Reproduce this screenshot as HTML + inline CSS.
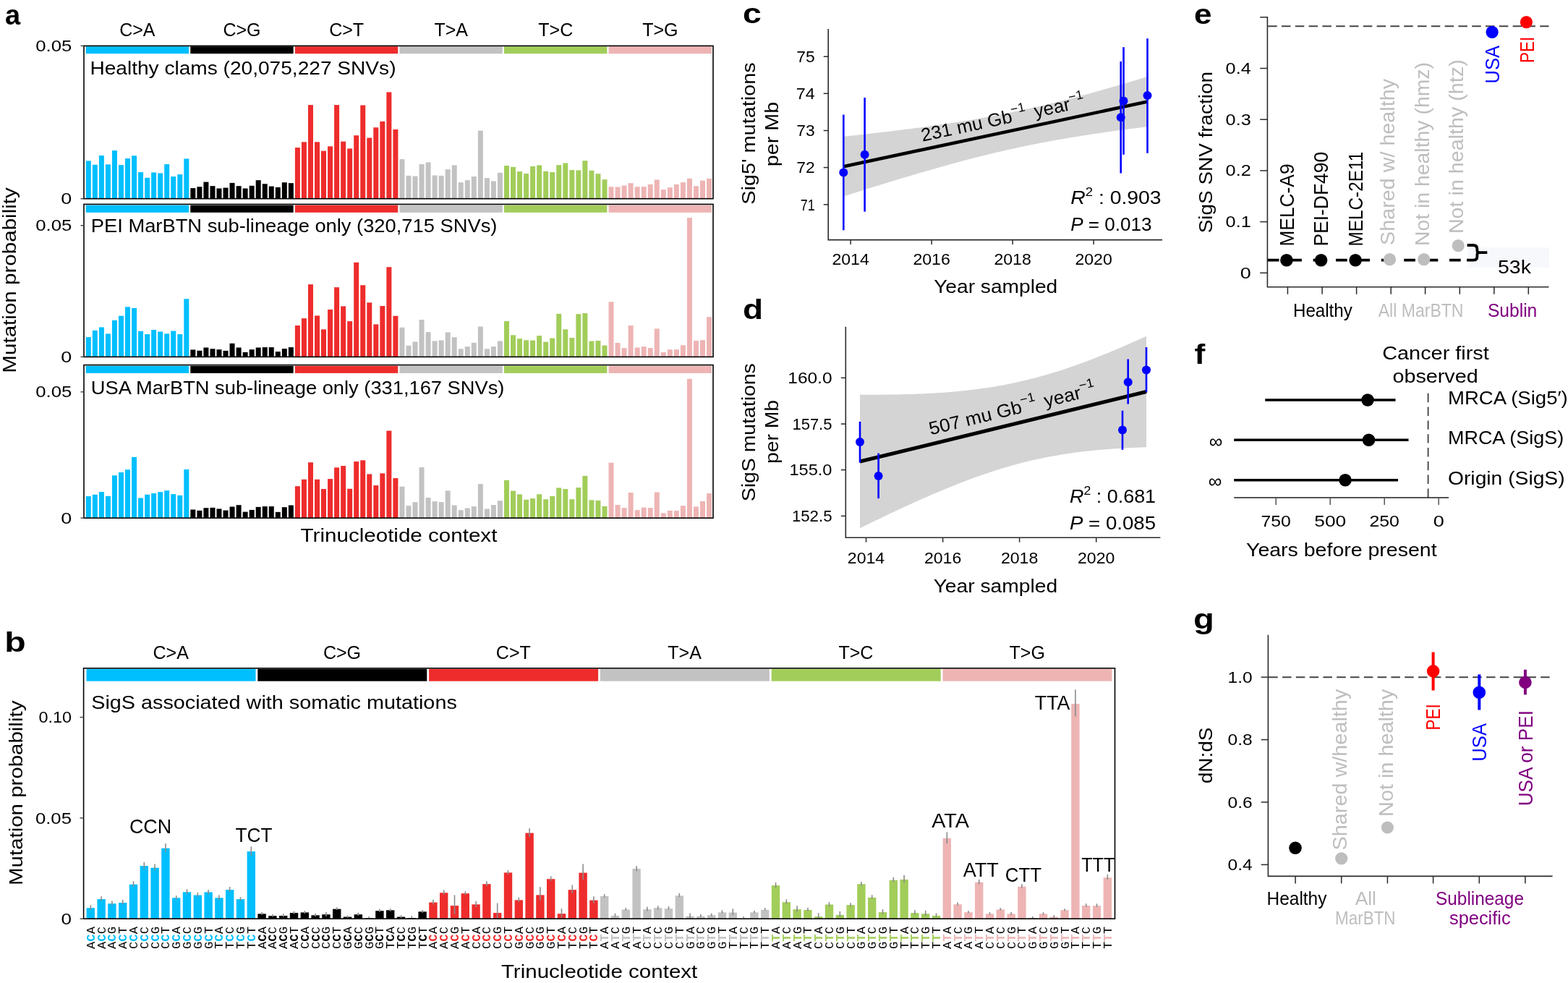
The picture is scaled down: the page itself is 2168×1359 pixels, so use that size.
<!DOCTYPE html>
<html><head><meta charset="utf-8"><title>Figure</title>
<style>html,body{margin:0;padding:0;background:#fff;} svg{display:block;}</style>
</head><body>
<svg width="2168" height="1359" viewBox="0 0 2168 1359" font-family="'Liberation Sans', Arial, Helvetica, sans-serif">
<rect x="0" y="0" width="2168" height="1359" fill="#fff"/>
<text x="7.0" y="33.5" font-size="38" font-weight="bold">a</text>
<text x="6.2" y="901.0" font-size="38" font-weight="bold" textLength="29.5" lengthAdjust="spacingAndGlyphs">b</text>
<text x="1027.0" y="32.0" font-size="38" font-weight="bold" textLength="25.8" lengthAdjust="spacingAndGlyphs">c</text>
<text x="1027.0" y="441.0" font-size="38" font-weight="bold" textLength="28.1" lengthAdjust="spacingAndGlyphs">d</text>
<text x="1651.0" y="32.5" font-size="38" font-weight="bold" textLength="24.5" lengthAdjust="spacingAndGlyphs">e</text>
<text x="1651.5" y="503.0" font-size="38" font-weight="bold" textLength="14.8" lengthAdjust="spacingAndGlyphs">f</text>
<text x="1650.0" y="868.5" font-size="38" font-weight="bold" textLength="28.8" lengthAdjust="spacingAndGlyphs">g</text>
<text x="189.9" y="50.4" font-size="25" text-anchor="middle">C&gt;A</text>
<text x="334.5" y="50.4" font-size="25" text-anchor="middle">C&gt;G</text>
<text x="479.1" y="50.4" font-size="25" text-anchor="middle">C&gt;T</text>
<text x="623.7" y="50.4" font-size="25" text-anchor="middle">T&gt;A</text>
<text x="768.3" y="50.4" font-size="25" text-anchor="middle">T&gt;C</text>
<text x="912.9" y="50.4" font-size="25" text-anchor="middle">T&gt;G</text>
<rect x="118.70" y="64.20" width="142.40" height="10.00" fill="#00BFFF"/>
<rect x="263.27" y="64.20" width="142.40" height="10.00" fill="#000000"/>
<rect x="407.84" y="64.20" width="142.40" height="10.00" fill="#EE2C2C"/>
<rect x="552.41" y="64.20" width="142.40" height="10.00" fill="#C2C2C2"/>
<rect x="696.98" y="64.20" width="142.40" height="10.00" fill="#A2CD5A"/>
<rect x="841.55" y="64.20" width="142.40" height="10.00" fill="#EEB4B4"/>
<rect x="118.80" y="222.39" width="7.00" height="52.31" fill="#00BFFF"/>
<rect x="127.83" y="227.74" width="7.00" height="46.96" fill="#00BFFF"/>
<rect x="136.87" y="215.03" width="7.00" height="59.67" fill="#00BFFF"/>
<rect x="145.90" y="227.34" width="7.00" height="47.36" fill="#00BFFF"/>
<rect x="154.94" y="208.08" width="7.00" height="66.62" fill="#00BFFF"/>
<rect x="163.97" y="228.14" width="7.00" height="46.56" fill="#00BFFF"/>
<rect x="173.00" y="219.05" width="7.00" height="55.65" fill="#00BFFF"/>
<rect x="182.04" y="215.30" width="7.00" height="59.40" fill="#00BFFF"/>
<rect x="191.07" y="238.04" width="7.00" height="36.66" fill="#00BFFF"/>
<rect x="200.11" y="245.80" width="7.00" height="28.90" fill="#00BFFF"/>
<rect x="209.14" y="238.44" width="7.00" height="36.26" fill="#00BFFF"/>
<rect x="218.17" y="239.38" width="7.00" height="35.32" fill="#00BFFF"/>
<rect x="227.21" y="227.07" width="7.00" height="47.63" fill="#00BFFF"/>
<rect x="236.24" y="244.06" width="7.00" height="30.64" fill="#00BFFF"/>
<rect x="245.28" y="241.12" width="7.00" height="33.58" fill="#00BFFF"/>
<rect x="254.31" y="219.45" width="7.00" height="55.25" fill="#00BFFF"/>
<rect x="263.34" y="260.11" width="7.00" height="14.59" fill="#000000"/>
<rect x="272.38" y="258.24" width="7.00" height="16.46" fill="#000000"/>
<rect x="281.41" y="251.55" width="7.00" height="23.15" fill="#000000"/>
<rect x="290.45" y="257.17" width="7.00" height="17.53" fill="#000000"/>
<rect x="299.48" y="260.51" width="7.00" height="14.19" fill="#000000"/>
<rect x="308.51" y="259.58" width="7.00" height="15.12" fill="#000000"/>
<rect x="317.55" y="252.89" width="7.00" height="21.81" fill="#000000"/>
<rect x="326.58" y="257.17" width="7.00" height="17.53" fill="#000000"/>
<rect x="335.62" y="260.51" width="7.00" height="14.19" fill="#000000"/>
<rect x="344.65" y="256.77" width="7.00" height="17.93" fill="#000000"/>
<rect x="353.68" y="249.14" width="7.00" height="25.56" fill="#000000"/>
<rect x="362.72" y="254.23" width="7.00" height="20.47" fill="#000000"/>
<rect x="371.75" y="257.57" width="7.00" height="17.13" fill="#000000"/>
<rect x="380.79" y="258.91" width="7.00" height="15.79" fill="#000000"/>
<rect x="389.82" y="252.22" width="7.00" height="22.48" fill="#000000"/>
<rect x="398.85" y="253.16" width="7.00" height="21.54" fill="#000000"/>
<rect x="407.89" y="204.07" width="7.00" height="70.63" fill="#EE2C2C"/>
<rect x="416.92" y="196.31" width="7.00" height="78.39" fill="#EE2C2C"/>
<rect x="425.96" y="145.08" width="7.00" height="129.62" fill="#EE2C2C"/>
<rect x="434.99" y="196.31" width="7.00" height="78.39" fill="#EE2C2C"/>
<rect x="444.02" y="208.61" width="7.00" height="66.09" fill="#EE2C2C"/>
<rect x="453.06" y="202.33" width="7.00" height="72.37" fill="#EE2C2C"/>
<rect x="462.09" y="145.08" width="7.00" height="129.62" fill="#EE2C2C"/>
<rect x="471.13" y="195.64" width="7.00" height="79.06" fill="#EE2C2C"/>
<rect x="480.16" y="205.40" width="7.00" height="69.30" fill="#EE2C2C"/>
<rect x="489.19" y="187.21" width="7.00" height="87.49" fill="#EE2C2C"/>
<rect x="498.23" y="145.48" width="7.00" height="129.22" fill="#EE2C2C"/>
<rect x="507.26" y="190.56" width="7.00" height="84.14" fill="#EE2C2C"/>
<rect x="516.30" y="176.24" width="7.00" height="98.46" fill="#EE2C2C"/>
<rect x="525.33" y="167.82" width="7.00" height="106.88" fill="#EE2C2C"/>
<rect x="534.36" y="127.42" width="7.00" height="147.28" fill="#EE2C2C"/>
<rect x="543.40" y="178.92" width="7.00" height="95.78" fill="#EE2C2C"/>
<rect x="552.43" y="220.12" width="7.00" height="54.58" fill="#C2C2C2"/>
<rect x="561.47" y="242.86" width="7.00" height="31.84" fill="#C2C2C2"/>
<rect x="570.50" y="243.53" width="7.00" height="31.17" fill="#C2C2C2"/>
<rect x="579.53" y="227.07" width="7.00" height="47.63" fill="#C2C2C2"/>
<rect x="588.57" y="224.40" width="7.00" height="50.30" fill="#C2C2C2"/>
<rect x="597.60" y="242.46" width="7.00" height="32.24" fill="#C2C2C2"/>
<rect x="606.64" y="242.86" width="7.00" height="31.84" fill="#C2C2C2"/>
<rect x="615.67" y="234.16" width="7.00" height="40.54" fill="#C2C2C2"/>
<rect x="624.70" y="228.41" width="7.00" height="46.29" fill="#C2C2C2"/>
<rect x="633.74" y="252.22" width="7.00" height="22.48" fill="#C2C2C2"/>
<rect x="642.77" y="249.14" width="7.00" height="25.56" fill="#C2C2C2"/>
<rect x="651.81" y="244.06" width="7.00" height="30.64" fill="#C2C2C2"/>
<rect x="660.84" y="180.66" width="7.00" height="94.04" fill="#C2C2C2"/>
<rect x="669.87" y="246.07" width="7.00" height="28.63" fill="#C2C2C2"/>
<rect x="678.91" y="250.48" width="7.00" height="24.22" fill="#C2C2C2"/>
<rect x="687.94" y="238.84" width="7.00" height="35.86" fill="#C2C2C2"/>
<rect x="696.98" y="229.08" width="7.00" height="45.62" fill="#A2CD5A"/>
<rect x="706.01" y="230.82" width="7.00" height="43.88" fill="#A2CD5A"/>
<rect x="715.04" y="237.11" width="7.00" height="37.59" fill="#A2CD5A"/>
<rect x="724.08" y="240.05" width="7.00" height="34.65" fill="#A2CD5A"/>
<rect x="733.11" y="230.02" width="7.00" height="44.68" fill="#A2CD5A"/>
<rect x="742.15" y="228.41" width="7.00" height="46.29" fill="#A2CD5A"/>
<rect x="751.18" y="236.84" width="7.00" height="37.86" fill="#A2CD5A"/>
<rect x="760.21" y="238.04" width="7.00" height="36.66" fill="#A2CD5A"/>
<rect x="769.25" y="228.14" width="7.00" height="46.56" fill="#A2CD5A"/>
<rect x="778.28" y="225.47" width="7.00" height="49.23" fill="#A2CD5A"/>
<rect x="787.32" y="235.10" width="7.00" height="39.60" fill="#A2CD5A"/>
<rect x="796.35" y="235.37" width="7.00" height="39.33" fill="#A2CD5A"/>
<rect x="805.38" y="222.12" width="7.00" height="52.58" fill="#A2CD5A"/>
<rect x="814.42" y="235.77" width="7.00" height="38.93" fill="#A2CD5A"/>
<rect x="823.45" y="240.18" width="7.00" height="34.52" fill="#A2CD5A"/>
<rect x="832.49" y="248.21" width="7.00" height="26.49" fill="#A2CD5A"/>
<rect x="841.52" y="258.24" width="7.00" height="16.46" fill="#EEB4B4"/>
<rect x="850.55" y="258.51" width="7.00" height="16.19" fill="#EEB4B4"/>
<rect x="859.59" y="256.50" width="7.00" height="18.20" fill="#EEB4B4"/>
<rect x="868.62" y="253.16" width="7.00" height="21.54" fill="#EEB4B4"/>
<rect x="877.66" y="258.24" width="7.00" height="16.46" fill="#EEB4B4"/>
<rect x="886.69" y="258.11" width="7.00" height="16.59" fill="#EEB4B4"/>
<rect x="895.72" y="254.90" width="7.00" height="19.80" fill="#EEB4B4"/>
<rect x="904.76" y="248.48" width="7.00" height="26.22" fill="#EEB4B4"/>
<rect x="913.79" y="262.12" width="7.00" height="12.58" fill="#EEB4B4"/>
<rect x="922.83" y="259.18" width="7.00" height="15.52" fill="#EEB4B4"/>
<rect x="931.86" y="254.90" width="7.00" height="19.80" fill="#EEB4B4"/>
<rect x="940.89" y="252.09" width="7.00" height="22.61" fill="#EEB4B4"/>
<rect x="949.93" y="246.74" width="7.00" height="27.96" fill="#EEB4B4"/>
<rect x="958.96" y="257.17" width="7.00" height="17.53" fill="#EEB4B4"/>
<rect x="968.00" y="249.55" width="7.00" height="25.15" fill="#EEB4B4"/>
<rect x="977.03" y="246.87" width="7.00" height="27.83" fill="#EEB4B4"/>
<rect x="116.0" y="63.4" width="870.0" height="211.29999999999998" fill="none" stroke="#000" stroke-width="1.6"/>
<line x1="111.5" y1="63.4" x2="116.0" y2="63.4" stroke="#444" stroke-width="1.4"/>
<line x1="111.5" y1="274.7" x2="116.0" y2="274.7" stroke="#444" stroke-width="1.4"/>
<text x="99.3" y="70.9" font-size="22.5" text-anchor="end" textLength="50.1" lengthAdjust="spacingAndGlyphs">0.05</text>
<text x="99.3" y="282.2" font-size="22.5" text-anchor="end" textLength="15.0" lengthAdjust="spacingAndGlyphs">0</text>
<text x="124.4" y="103.4" font-size="26" textLength="423.1" lengthAdjust="spacingAndGlyphs">Healthy clams (20,075,227 SNVs)</text>
<rect x="118.70" y="283.60" width="142.40" height="10.20" fill="#00BFFF"/>
<rect x="263.27" y="283.60" width="142.40" height="10.20" fill="#000000"/>
<rect x="407.84" y="283.60" width="142.40" height="10.20" fill="#EE2C2C"/>
<rect x="552.41" y="283.60" width="142.40" height="10.20" fill="#C2C2C2"/>
<rect x="696.98" y="283.60" width="142.40" height="10.20" fill="#A2CD5A"/>
<rect x="841.55" y="283.60" width="142.40" height="10.20" fill="#EEB4B4"/>
<rect x="118.80" y="466.07" width="7.00" height="27.33" fill="#00BFFF"/>
<rect x="127.83" y="456.84" width="7.00" height="36.56" fill="#00BFFF"/>
<rect x="136.87" y="452.42" width="7.00" height="40.98" fill="#00BFFF"/>
<rect x="145.90" y="461.39" width="7.00" height="32.01" fill="#00BFFF"/>
<rect x="154.94" y="442.79" width="7.00" height="50.61" fill="#00BFFF"/>
<rect x="163.97" y="436.64" width="7.00" height="56.76" fill="#00BFFF"/>
<rect x="173.00" y="424.33" width="7.00" height="69.07" fill="#00BFFF"/>
<rect x="182.04" y="425.94" width="7.00" height="67.46" fill="#00BFFF"/>
<rect x="191.07" y="457.77" width="7.00" height="35.63" fill="#00BFFF"/>
<rect x="200.11" y="462.05" width="7.00" height="31.35" fill="#00BFFF"/>
<rect x="209.14" y="456.04" width="7.00" height="37.36" fill="#00BFFF"/>
<rect x="218.17" y="458.44" width="7.00" height="34.96" fill="#00BFFF"/>
<rect x="227.21" y="461.39" width="7.00" height="32.01" fill="#00BFFF"/>
<rect x="236.24" y="457.51" width="7.00" height="35.89" fill="#00BFFF"/>
<rect x="245.28" y="462.05" width="7.00" height="31.35" fill="#00BFFF"/>
<rect x="254.31" y="413.23" width="7.00" height="80.17" fill="#00BFFF"/>
<rect x="263.34" y="483.46" width="7.00" height="9.94" fill="#000000"/>
<rect x="272.38" y="484.79" width="7.00" height="8.61" fill="#000000"/>
<rect x="281.41" y="480.51" width="7.00" height="12.89" fill="#000000"/>
<rect x="290.45" y="482.25" width="7.00" height="11.15" fill="#000000"/>
<rect x="299.48" y="483.19" width="7.00" height="10.21" fill="#000000"/>
<rect x="308.51" y="484.93" width="7.00" height="8.47" fill="#000000"/>
<rect x="317.55" y="474.76" width="7.00" height="18.64" fill="#000000"/>
<rect x="326.58" y="480.51" width="7.00" height="12.89" fill="#000000"/>
<rect x="335.62" y="486.93" width="7.00" height="6.47" fill="#000000"/>
<rect x="344.65" y="483.19" width="7.00" height="10.21" fill="#000000"/>
<rect x="353.68" y="480.51" width="7.00" height="12.89" fill="#000000"/>
<rect x="362.72" y="480.11" width="7.00" height="13.29" fill="#000000"/>
<rect x="371.75" y="480.11" width="7.00" height="13.29" fill="#000000"/>
<rect x="380.79" y="486.13" width="7.00" height="7.27" fill="#000000"/>
<rect x="389.82" y="482.12" width="7.00" height="11.28" fill="#000000"/>
<rect x="398.85" y="480.11" width="7.00" height="13.29" fill="#000000"/>
<rect x="407.89" y="450.02" width="7.00" height="43.38" fill="#EE2C2C"/>
<rect x="416.92" y="440.12" width="7.00" height="53.28" fill="#EE2C2C"/>
<rect x="425.96" y="393.17" width="7.00" height="100.23" fill="#EE2C2C"/>
<rect x="434.99" y="436.37" width="7.00" height="57.03" fill="#EE2C2C"/>
<rect x="444.02" y="455.37" width="7.00" height="38.03" fill="#EE2C2C"/>
<rect x="453.06" y="427.95" width="7.00" height="65.45" fill="#EE2C2C"/>
<rect x="462.09" y="397.18" width="7.00" height="96.22" fill="#EE2C2C"/>
<rect x="471.13" y="423.40" width="7.00" height="70.00" fill="#EE2C2C"/>
<rect x="480.16" y="444.13" width="7.00" height="49.27" fill="#EE2C2C"/>
<rect x="489.19" y="362.80" width="7.00" height="130.60" fill="#EE2C2C"/>
<rect x="498.23" y="394.24" width="7.00" height="99.16" fill="#EE2C2C"/>
<rect x="507.26" y="418.31" width="7.00" height="75.09" fill="#EE2C2C"/>
<rect x="516.30" y="448.41" width="7.00" height="44.99" fill="#EE2C2C"/>
<rect x="525.33" y="423.00" width="7.00" height="70.40" fill="#EE2C2C"/>
<rect x="534.36" y="369.22" width="7.00" height="124.18" fill="#EE2C2C"/>
<rect x="543.40" y="436.77" width="7.00" height="56.63" fill="#EE2C2C"/>
<rect x="552.43" y="452.69" width="7.00" height="40.71" fill="#C2C2C2"/>
<rect x="561.47" y="477.84" width="7.00" height="15.56" fill="#C2C2C2"/>
<rect x="570.50" y="472.49" width="7.00" height="20.91" fill="#C2C2C2"/>
<rect x="579.53" y="441.99" width="7.00" height="51.41" fill="#C2C2C2"/>
<rect x="588.57" y="459.11" width="7.00" height="34.29" fill="#C2C2C2"/>
<rect x="597.60" y="471.42" width="7.00" height="21.98" fill="#C2C2C2"/>
<rect x="606.64" y="470.48" width="7.00" height="22.92" fill="#C2C2C2"/>
<rect x="615.67" y="459.38" width="7.00" height="34.02" fill="#C2C2C2"/>
<rect x="624.70" y="466.20" width="7.00" height="27.20" fill="#C2C2C2"/>
<rect x="633.74" y="482.25" width="7.00" height="11.15" fill="#C2C2C2"/>
<rect x="642.77" y="479.18" width="7.00" height="14.22" fill="#C2C2C2"/>
<rect x="651.81" y="473.83" width="7.00" height="19.57" fill="#C2C2C2"/>
<rect x="660.84" y="451.49" width="7.00" height="41.91" fill="#C2C2C2"/>
<rect x="669.87" y="482.25" width="7.00" height="11.15" fill="#C2C2C2"/>
<rect x="678.91" y="479.18" width="7.00" height="14.22" fill="#C2C2C2"/>
<rect x="687.94" y="471.42" width="7.00" height="21.98" fill="#C2C2C2"/>
<rect x="696.98" y="444.02" width="7.00" height="49.38" fill="#A2CD5A"/>
<rect x="706.01" y="463.29" width="7.00" height="30.11" fill="#A2CD5A"/>
<rect x="715.04" y="468.15" width="7.00" height="25.25" fill="#A2CD5A"/>
<rect x="724.08" y="470.25" width="7.00" height="23.15" fill="#A2CD5A"/>
<rect x="733.11" y="470.58" width="7.00" height="22.82" fill="#A2CD5A"/>
<rect x="742.15" y="464.10" width="7.00" height="29.30" fill="#A2CD5A"/>
<rect x="751.18" y="472.68" width="7.00" height="20.72" fill="#A2CD5A"/>
<rect x="760.21" y="467.50" width="7.00" height="25.90" fill="#A2CD5A"/>
<rect x="769.25" y="433.82" width="7.00" height="59.58" fill="#A2CD5A"/>
<rect x="778.28" y="455.36" width="7.00" height="38.04" fill="#A2CD5A"/>
<rect x="787.32" y="467.01" width="7.00" height="26.39" fill="#A2CD5A"/>
<rect x="796.35" y="434.15" width="7.00" height="59.25" fill="#A2CD5A"/>
<rect x="805.38" y="433.01" width="7.00" height="60.39" fill="#A2CD5A"/>
<rect x="814.42" y="471.55" width="7.00" height="21.85" fill="#A2CD5A"/>
<rect x="823.45" y="471.06" width="7.00" height="22.34" fill="#A2CD5A"/>
<rect x="832.49" y="477.54" width="7.00" height="15.86" fill="#A2CD5A"/>
<rect x="841.52" y="417.31" width="7.00" height="76.09" fill="#EEB4B4"/>
<rect x="850.55" y="473.98" width="7.00" height="19.42" fill="#EEB4B4"/>
<rect x="859.59" y="481.10" width="7.00" height="12.30" fill="#EEB4B4"/>
<rect x="868.62" y="450.01" width="7.00" height="43.39" fill="#EEB4B4"/>
<rect x="877.66" y="480.45" width="7.00" height="12.95" fill="#EEB4B4"/>
<rect x="886.69" y="479.16" width="7.00" height="14.24" fill="#EEB4B4"/>
<rect x="895.72" y="481.10" width="7.00" height="12.30" fill="#EEB4B4"/>
<rect x="904.76" y="454.38" width="7.00" height="39.02" fill="#EEB4B4"/>
<rect x="913.79" y="486.93" width="7.00" height="6.47" fill="#EEB4B4"/>
<rect x="922.83" y="483.21" width="7.00" height="10.19" fill="#EEB4B4"/>
<rect x="931.86" y="483.21" width="7.00" height="10.19" fill="#EEB4B4"/>
<rect x="940.89" y="477.22" width="7.00" height="16.18" fill="#EEB4B4"/>
<rect x="949.93" y="301.05" width="7.00" height="192.35" fill="#EEB4B4"/>
<rect x="958.96" y="471.06" width="7.00" height="22.34" fill="#EEB4B4"/>
<rect x="968.00" y="470.25" width="7.00" height="23.15" fill="#EEB4B4"/>
<rect x="977.03" y="438.19" width="7.00" height="55.21" fill="#EEB4B4"/>
<rect x="116.0" y="282.4" width="870.0" height="211.0" fill="none" stroke="#000" stroke-width="1.6"/>
<line x1="111.5" y1="311.8" x2="116.0" y2="311.8" stroke="#444" stroke-width="1.4"/>
<line x1="111.5" y1="493.4" x2="116.0" y2="493.4" stroke="#444" stroke-width="1.4"/>
<text x="99.3" y="319.3" font-size="22.5" text-anchor="end" textLength="50.1" lengthAdjust="spacingAndGlyphs">0.05</text>
<text x="99.3" y="500.9" font-size="22.5" text-anchor="end" textLength="15.0" lengthAdjust="spacingAndGlyphs">0</text>
<text x="125.8" y="321.0" font-size="26" textLength="561.6" lengthAdjust="spacingAndGlyphs">PEI MarBTN sub-lineage only (320,715 SNVs)</text>
<rect x="118.70" y="505.80" width="142.40" height="10.10" fill="#00BFFF"/>
<rect x="263.27" y="505.80" width="142.40" height="10.10" fill="#000000"/>
<rect x="407.84" y="505.80" width="142.40" height="10.10" fill="#EE2C2C"/>
<rect x="552.41" y="505.80" width="142.40" height="10.10" fill="#C2C2C2"/>
<rect x="696.98" y="505.80" width="142.40" height="10.10" fill="#A2CD5A"/>
<rect x="841.55" y="505.80" width="142.40" height="10.10" fill="#EEB4B4"/>
<rect x="118.80" y="686.07" width="7.00" height="30.13" fill="#00BFFF"/>
<rect x="127.83" y="683.79" width="7.00" height="32.41" fill="#00BFFF"/>
<rect x="136.87" y="680.05" width="7.00" height="36.15" fill="#00BFFF"/>
<rect x="145.90" y="685.80" width="7.00" height="30.40" fill="#00BFFF"/>
<rect x="154.94" y="657.31" width="7.00" height="58.89" fill="#00BFFF"/>
<rect x="163.97" y="653.03" width="7.00" height="63.17" fill="#00BFFF"/>
<rect x="173.00" y="649.28" width="7.00" height="66.92" fill="#00BFFF"/>
<rect x="182.04" y="631.89" width="7.00" height="84.31" fill="#00BFFF"/>
<rect x="191.07" y="688.48" width="7.00" height="27.72" fill="#00BFFF"/>
<rect x="200.11" y="683.79" width="7.00" height="32.41" fill="#00BFFF"/>
<rect x="209.14" y="682.05" width="7.00" height="34.15" fill="#00BFFF"/>
<rect x="218.17" y="680.18" width="7.00" height="36.02" fill="#00BFFF"/>
<rect x="227.21" y="678.18" width="7.00" height="38.02" fill="#00BFFF"/>
<rect x="236.24" y="683.12" width="7.00" height="33.08" fill="#00BFFF"/>
<rect x="245.28" y="684.86" width="7.00" height="31.34" fill="#00BFFF"/>
<rect x="254.31" y="649.02" width="7.00" height="67.18" fill="#00BFFF"/>
<rect x="263.34" y="704.53" width="7.00" height="11.67" fill="#000000"/>
<rect x="272.38" y="705.86" width="7.00" height="10.34" fill="#000000"/>
<rect x="281.41" y="702.25" width="7.00" height="13.95" fill="#000000"/>
<rect x="290.45" y="701.85" width="7.00" height="14.35" fill="#000000"/>
<rect x="299.48" y="703.46" width="7.00" height="12.74" fill="#000000"/>
<rect x="308.51" y="705.60" width="7.00" height="10.60" fill="#000000"/>
<rect x="317.55" y="700.51" width="7.00" height="15.69" fill="#000000"/>
<rect x="326.58" y="698.24" width="7.00" height="17.96" fill="#000000"/>
<rect x="335.62" y="707.60" width="7.00" height="8.60" fill="#000000"/>
<rect x="344.65" y="704.93" width="7.00" height="11.27" fill="#000000"/>
<rect x="353.68" y="700.91" width="7.00" height="15.29" fill="#000000"/>
<rect x="362.72" y="700.11" width="7.00" height="16.09" fill="#000000"/>
<rect x="371.75" y="700.11" width="7.00" height="16.09" fill="#000000"/>
<rect x="380.79" y="707.87" width="7.00" height="8.33" fill="#000000"/>
<rect x="389.82" y="701.18" width="7.00" height="15.02" fill="#000000"/>
<rect x="398.85" y="698.51" width="7.00" height="17.69" fill="#000000"/>
<rect x="407.89" y="672.16" width="7.00" height="44.04" fill="#EE2C2C"/>
<rect x="416.92" y="662.79" width="7.00" height="53.41" fill="#EE2C2C"/>
<rect x="425.96" y="639.25" width="7.00" height="76.95" fill="#EE2C2C"/>
<rect x="434.99" y="662.79" width="7.00" height="53.41" fill="#EE2C2C"/>
<rect x="444.02" y="676.04" width="7.00" height="40.16" fill="#EE2C2C"/>
<rect x="453.06" y="662.12" width="7.00" height="54.08" fill="#EE2C2C"/>
<rect x="462.09" y="646.34" width="7.00" height="69.86" fill="#EE2C2C"/>
<rect x="471.13" y="644.07" width="7.00" height="72.13" fill="#EE2C2C"/>
<rect x="480.16" y="675.77" width="7.00" height="40.43" fill="#EE2C2C"/>
<rect x="489.19" y="638.05" width="7.00" height="78.15" fill="#EE2C2C"/>
<rect x="498.23" y="636.31" width="7.00" height="79.89" fill="#EE2C2C"/>
<rect x="507.26" y="655.44" width="7.00" height="60.76" fill="#EE2C2C"/>
<rect x="516.30" y="671.09" width="7.00" height="45.11" fill="#EE2C2C"/>
<rect x="525.33" y="654.37" width="7.00" height="61.83" fill="#EE2C2C"/>
<rect x="534.36" y="595.51" width="7.00" height="120.69" fill="#EE2C2C"/>
<rect x="543.40" y="661.05" width="7.00" height="55.15" fill="#EE2C2C"/>
<rect x="552.43" y="672.69" width="7.00" height="43.51" fill="#C2C2C2"/>
<rect x="561.47" y="699.18" width="7.00" height="17.02" fill="#C2C2C2"/>
<rect x="570.50" y="694.23" width="7.00" height="21.97" fill="#C2C2C2"/>
<rect x="579.53" y="646.07" width="7.00" height="70.13" fill="#C2C2C2"/>
<rect x="588.57" y="688.07" width="7.00" height="28.13" fill="#C2C2C2"/>
<rect x="597.60" y="693.16" width="7.00" height="23.04" fill="#C2C2C2"/>
<rect x="606.64" y="694.09" width="7.00" height="22.11" fill="#C2C2C2"/>
<rect x="615.67" y="678.44" width="7.00" height="37.76" fill="#C2C2C2"/>
<rect x="624.70" y="698.51" width="7.00" height="17.69" fill="#C2C2C2"/>
<rect x="633.74" y="705.20" width="7.00" height="11.00" fill="#C2C2C2"/>
<rect x="642.77" y="702.52" width="7.00" height="13.68" fill="#C2C2C2"/>
<rect x="651.81" y="700.11" width="7.00" height="16.09" fill="#C2C2C2"/>
<rect x="660.84" y="669.08" width="7.00" height="47.12" fill="#C2C2C2"/>
<rect x="669.87" y="703.46" width="7.00" height="12.74" fill="#C2C2C2"/>
<rect x="678.91" y="698.11" width="7.00" height="18.09" fill="#C2C2C2"/>
<rect x="687.94" y="692.22" width="7.00" height="23.98" fill="#C2C2C2"/>
<rect x="696.98" y="663.86" width="7.00" height="52.34" fill="#A2CD5A"/>
<rect x="706.01" y="678.59" width="7.00" height="37.61" fill="#A2CD5A"/>
<rect x="715.04" y="683.45" width="7.00" height="32.75" fill="#A2CD5A"/>
<rect x="724.08" y="690.74" width="7.00" height="25.46" fill="#A2CD5A"/>
<rect x="733.11" y="689.12" width="7.00" height="27.08" fill="#A2CD5A"/>
<rect x="742.15" y="683.29" width="7.00" height="32.91" fill="#A2CD5A"/>
<rect x="751.18" y="690.25" width="7.00" height="25.95" fill="#A2CD5A"/>
<rect x="760.21" y="685.88" width="7.00" height="30.32" fill="#A2CD5A"/>
<rect x="769.25" y="674.38" width="7.00" height="41.82" fill="#A2CD5A"/>
<rect x="778.28" y="676.00" width="7.00" height="40.20" fill="#A2CD5A"/>
<rect x="787.32" y="690.25" width="7.00" height="25.95" fill="#A2CD5A"/>
<rect x="796.35" y="674.06" width="7.00" height="42.14" fill="#A2CD5A"/>
<rect x="805.38" y="657.87" width="7.00" height="58.33" fill="#A2CD5A"/>
<rect x="814.42" y="691.39" width="7.00" height="24.81" fill="#A2CD5A"/>
<rect x="823.45" y="692.03" width="7.00" height="24.17" fill="#A2CD5A"/>
<rect x="832.49" y="699.97" width="7.00" height="16.23" fill="#A2CD5A"/>
<rect x="841.52" y="639.73" width="7.00" height="76.47" fill="#EEB4B4"/>
<rect x="850.55" y="698.02" width="7.00" height="18.18" fill="#EEB4B4"/>
<rect x="859.59" y="702.07" width="7.00" height="14.13" fill="#EEB4B4"/>
<rect x="868.62" y="681.02" width="7.00" height="35.18" fill="#EEB4B4"/>
<rect x="877.66" y="705.15" width="7.00" height="11.05" fill="#EEB4B4"/>
<rect x="886.69" y="701.59" width="7.00" height="14.61" fill="#EEB4B4"/>
<rect x="895.72" y="702.07" width="7.00" height="14.13" fill="#EEB4B4"/>
<rect x="904.76" y="680.54" width="7.00" height="35.66" fill="#EEB4B4"/>
<rect x="913.79" y="709.36" width="7.00" height="6.84" fill="#EEB4B4"/>
<rect x="922.83" y="705.96" width="7.00" height="10.24" fill="#EEB4B4"/>
<rect x="931.86" y="706.12" width="7.00" height="10.08" fill="#EEB4B4"/>
<rect x="940.89" y="699.16" width="7.00" height="17.04" fill="#EEB4B4"/>
<rect x="949.93" y="523.80" width="7.00" height="192.40" fill="#EEB4B4"/>
<rect x="958.96" y="700.45" width="7.00" height="15.75" fill="#EEB4B4"/>
<rect x="968.00" y="693.01" width="7.00" height="23.19" fill="#EEB4B4"/>
<rect x="977.03" y="682.16" width="7.00" height="34.04" fill="#EEB4B4"/>
<rect x="116.0" y="504.6" width="870.0" height="211.60000000000002" fill="none" stroke="#000" stroke-width="1.6"/>
<line x1="111.5" y1="541.8" x2="116.0" y2="541.8" stroke="#444" stroke-width="1.4"/>
<line x1="111.5" y1="716.2" x2="116.0" y2="716.2" stroke="#444" stroke-width="1.4"/>
<text x="99.3" y="549.3" font-size="22.5" text-anchor="end" textLength="50.1" lengthAdjust="spacingAndGlyphs">0.05</text>
<text x="99.3" y="723.7" font-size="22.5" text-anchor="end" textLength="15.0" lengthAdjust="spacingAndGlyphs">0</text>
<text x="125.8" y="544.6" font-size="26" textLength="571.6" lengthAdjust="spacingAndGlyphs">USA MarBTN sub-lineage only (331,167 SNVs)</text>
<text transform="translate(22.1,387.4) rotate(-90)" font-size="26" text-anchor="middle" textLength="256.5" lengthAdjust="spacingAndGlyphs">Mutation probability</text>
<text x="551.5" y="748.7" font-size="26.5" text-anchor="middle" textLength="271.8" lengthAdjust="spacingAndGlyphs">Trinucleotide context</text>
<text x="236.2" y="910.7" font-size="25" text-anchor="middle">C&gt;A</text>
<rect x="119.50" y="924.80" width="234.00" height="16.90" fill="#00BFFF"/>
<text x="473.0" y="910.7" font-size="25" text-anchor="middle">C&gt;G</text>
<rect x="356.30" y="924.80" width="234.00" height="16.90" fill="#000000"/>
<text x="709.8" y="910.7" font-size="25" text-anchor="middle">C&gt;T</text>
<rect x="593.10" y="924.80" width="234.00" height="16.90" fill="#EE2C2C"/>
<text x="946.6" y="910.7" font-size="25" text-anchor="middle">T&gt;A</text>
<rect x="829.90" y="924.80" width="234.00" height="16.90" fill="#C2C2C2"/>
<text x="1183.4" y="910.7" font-size="25" text-anchor="middle">T&gt;C</text>
<rect x="1066.70" y="924.80" width="234.00" height="16.90" fill="#A2CD5A"/>
<text x="1420.2" y="910.7" font-size="25" text-anchor="middle">T&gt;G</text>
<rect x="1303.50" y="924.80" width="234.00" height="16.90" fill="#EEB4B4"/>
<text x="126.2" y="980.1" font-size="26" textLength="505.6" lengthAdjust="spacingAndGlyphs">SigS associated with somatic mutations</text>
<rect x="119.60" y="1255.22" width="11.40" height="14.98" fill="#00BFFF"/>
<rect x="134.40" y="1243.09" width="11.40" height="27.11" fill="#00BFFF"/>
<rect x="149.20" y="1249.21" width="11.40" height="20.99" fill="#00BFFF"/>
<rect x="164.00" y="1248.03" width="11.40" height="22.17" fill="#00BFFF"/>
<rect x="178.80" y="1222.71" width="11.40" height="47.49" fill="#00BFFF"/>
<rect x="193.60" y="1197.15" width="11.40" height="73.05" fill="#00BFFF"/>
<rect x="208.40" y="1199.74" width="11.40" height="70.46" fill="#00BFFF"/>
<rect x="223.20" y="1172.77" width="11.40" height="97.43" fill="#00BFFF"/>
<rect x="238.00" y="1241.32" width="11.40" height="28.88" fill="#00BFFF"/>
<rect x="252.80" y="1233.31" width="11.40" height="36.89" fill="#00BFFF"/>
<rect x="267.60" y="1237.55" width="11.40" height="32.65" fill="#00BFFF"/>
<rect x="282.40" y="1233.43" width="11.40" height="36.77" fill="#00BFFF"/>
<rect x="297.20" y="1241.32" width="11.40" height="28.88" fill="#00BFFF"/>
<rect x="312.00" y="1230.13" width="11.40" height="40.07" fill="#00BFFF"/>
<rect x="326.80" y="1243.09" width="11.40" height="27.11" fill="#00BFFF"/>
<rect x="341.60" y="1177.13" width="11.40" height="93.07" fill="#00BFFF"/>
<rect x="356.40" y="1263.34" width="11.40" height="6.86" fill="#000000"/>
<rect x="371.20" y="1266.22" width="11.40" height="3.98" fill="#000000"/>
<rect x="386.00" y="1266.00" width="11.40" height="4.20" fill="#000000"/>
<rect x="400.80" y="1262.02" width="11.40" height="8.18" fill="#000000"/>
<rect x="415.60" y="1261.46" width="11.40" height="8.74" fill="#000000"/>
<rect x="430.40" y="1265.34" width="11.40" height="4.86" fill="#000000"/>
<rect x="445.20" y="1264.23" width="11.40" height="5.97" fill="#000000"/>
<rect x="460.00" y="1256.70" width="11.40" height="13.50" fill="#000000"/>
<rect x="474.80" y="1267.55" width="11.40" height="2.65" fill="#000000"/>
<rect x="489.60" y="1264.23" width="11.40" height="5.97" fill="#000000"/>
<rect x="504.40" y="1269.55" width="11.40" height="0.65" fill="#000000"/>
<rect x="519.20" y="1259.25" width="11.40" height="10.95" fill="#000000"/>
<rect x="534.00" y="1258.36" width="11.40" height="11.84" fill="#000000"/>
<rect x="548.80" y="1267.55" width="11.40" height="2.65" fill="#000000"/>
<rect x="563.60" y="1269.21" width="11.40" height="0.99" fill="#000000"/>
<rect x="578.40" y="1260.35" width="11.40" height="9.85" fill="#000000"/>
<rect x="593.20" y="1247.57" width="11.40" height="22.63" fill="#EE2C2C"/>
<rect x="608.00" y="1234.28" width="11.40" height="35.92" fill="#EE2C2C"/>
<rect x="622.80" y="1252.11" width="11.40" height="18.09" fill="#EE2C2C"/>
<rect x="637.60" y="1235.17" width="11.40" height="35.03" fill="#EE2C2C"/>
<rect x="652.40" y="1250.34" width="11.40" height="19.86" fill="#EE2C2C"/>
<rect x="667.20" y="1222.22" width="11.40" height="47.98" fill="#EE2C2C"/>
<rect x="682.00" y="1262.07" width="11.40" height="8.13" fill="#EE2C2C"/>
<rect x="696.80" y="1206.39" width="11.40" height="63.81" fill="#EE2C2C"/>
<rect x="711.60" y="1244.36" width="11.40" height="25.84" fill="#EE2C2C"/>
<rect x="726.40" y="1151.59" width="11.40" height="118.61" fill="#EE2C2C"/>
<rect x="741.20" y="1237.38" width="11.40" height="32.82" fill="#EE2C2C"/>
<rect x="756.00" y="1215.24" width="11.40" height="54.96" fill="#EE2C2C"/>
<rect x="770.80" y="1263.18" width="11.40" height="7.02" fill="#EE2C2C"/>
<rect x="785.60" y="1230.19" width="11.40" height="40.01" fill="#EE2C2C"/>
<rect x="800.40" y="1206.61" width="11.40" height="63.59" fill="#EE2C2C"/>
<rect x="815.20" y="1244.58" width="11.40" height="25.62" fill="#EE2C2C"/>
<rect x="830.00" y="1239.01" width="11.40" height="31.19" fill="#C2C2C2"/>
<rect x="844.80" y="1266.02" width="11.40" height="4.18" fill="#C2C2C2"/>
<rect x="859.60" y="1257.49" width="11.40" height="12.71" fill="#C2C2C2"/>
<rect x="874.40" y="1201.03" width="11.40" height="69.17" fill="#C2C2C2"/>
<rect x="889.20" y="1257.16" width="11.40" height="13.04" fill="#C2C2C2"/>
<rect x="904.00" y="1255.28" width="11.40" height="14.92" fill="#C2C2C2"/>
<rect x="918.80" y="1256.17" width="11.40" height="14.03" fill="#C2C2C2"/>
<rect x="933.60" y="1238.34" width="11.40" height="31.86" fill="#C2C2C2"/>
<rect x="948.40" y="1266.68" width="11.40" height="3.52" fill="#C2C2C2"/>
<rect x="963.20" y="1266.68" width="11.40" height="3.52" fill="#C2C2C2"/>
<rect x="978.00" y="1265.24" width="11.40" height="4.96" fill="#C2C2C2"/>
<rect x="992.80" y="1261.37" width="11.40" height="8.83" fill="#C2C2C2"/>
<rect x="1007.60" y="1261.59" width="11.40" height="8.61" fill="#C2C2C2"/>
<rect x="1022.40" y="1269.89" width="11.40" height="0.31" fill="#C2C2C2"/>
<rect x="1037.20" y="1261.37" width="11.40" height="8.83" fill="#C2C2C2"/>
<rect x="1052.00" y="1257.83" width="11.40" height="12.37" fill="#C2C2C2"/>
<rect x="1066.80" y="1224.06" width="11.40" height="46.14" fill="#A2CD5A"/>
<rect x="1081.60" y="1247.20" width="11.40" height="23.00" fill="#A2CD5A"/>
<rect x="1096.40" y="1257.16" width="11.40" height="13.04" fill="#A2CD5A"/>
<rect x="1111.20" y="1258.05" width="11.40" height="12.15" fill="#A2CD5A"/>
<rect x="1126.00" y="1267.12" width="11.40" height="3.08" fill="#A2CD5A"/>
<rect x="1140.80" y="1250.52" width="11.40" height="19.68" fill="#A2CD5A"/>
<rect x="1155.60" y="1264.91" width="11.40" height="5.29" fill="#A2CD5A"/>
<rect x="1170.40" y="1251.18" width="11.40" height="19.02" fill="#A2CD5A"/>
<rect x="1185.20" y="1222.29" width="11.40" height="47.91" fill="#A2CD5A"/>
<rect x="1200.00" y="1240.89" width="11.40" height="29.31" fill="#A2CD5A"/>
<rect x="1214.80" y="1261.15" width="11.40" height="9.05" fill="#A2CD5A"/>
<rect x="1229.60" y="1216.75" width="11.40" height="53.45" fill="#A2CD5A"/>
<rect x="1244.40" y="1215.98" width="11.40" height="54.22" fill="#A2CD5A"/>
<rect x="1259.20" y="1262.14" width="11.40" height="8.06" fill="#A2CD5A"/>
<rect x="1274.00" y="1263.25" width="11.40" height="6.95" fill="#A2CD5A"/>
<rect x="1288.80" y="1266.02" width="11.40" height="4.18" fill="#A2CD5A"/>
<rect x="1303.60" y="1158.83" width="11.40" height="111.37" fill="#EEB4B4"/>
<rect x="1318.40" y="1250.27" width="11.40" height="19.93" fill="#EEB4B4"/>
<rect x="1333.20" y="1261.23" width="11.40" height="8.97" fill="#EEB4B4"/>
<rect x="1348.00" y="1219.71" width="11.40" height="50.49" fill="#EEB4B4"/>
<rect x="1362.80" y="1263.42" width="11.40" height="6.78" fill="#EEB4B4"/>
<rect x="1377.60" y="1257.42" width="11.40" height="12.78" fill="#EEB4B4"/>
<rect x="1392.40" y="1263.42" width="11.40" height="6.78" fill="#EEB4B4"/>
<rect x="1407.20" y="1225.71" width="11.40" height="44.49" fill="#EEB4B4"/>
<rect x="1422.00" y="1268.95" width="11.40" height="1.25" fill="#EEB4B4"/>
<rect x="1436.80" y="1263.42" width="11.40" height="6.78" fill="#EEB4B4"/>
<rect x="1451.60" y="1267.57" width="11.40" height="2.63" fill="#EEB4B4"/>
<rect x="1466.40" y="1258.23" width="11.40" height="11.97" fill="#EEB4B4"/>
<rect x="1481.20" y="973.10" width="11.40" height="297.10" fill="#EEB4B4"/>
<rect x="1496.00" y="1252.00" width="11.40" height="18.20" fill="#EEB4B4"/>
<rect x="1510.80" y="1252.23" width="11.40" height="17.97" fill="#EEB4B4"/>
<rect x="1525.60" y="1213.26" width="11.40" height="56.94" fill="#EEB4B4"/>
<line x1="125.3" y1="1251.3" x2="125.3" y2="1258.0" stroke="#8c8c8c" stroke-width="1.6"/>
<line x1="140.1" y1="1239.2" x2="140.1" y2="1245.8" stroke="#8c8c8c" stroke-width="1.6"/>
<line x1="154.9" y1="1245.4" x2="154.9" y2="1251.6" stroke="#8c8c8c" stroke-width="1.6"/>
<line x1="169.7" y1="1243.9" x2="169.7" y2="1250.4" stroke="#8c8c8c" stroke-width="1.6"/>
<line x1="184.5" y1="1218.4" x2="184.5" y2="1226.0" stroke="#8c8c8c" stroke-width="1.6"/>
<line x1="199.3" y1="1191.8" x2="199.3" y2="1201.3" stroke="#8c8c8c" stroke-width="1.6"/>
<line x1="214.1" y1="1194.4" x2="214.1" y2="1203.3" stroke="#8c8c8c" stroke-width="1.6"/>
<line x1="228.9" y1="1166.2" x2="228.9" y2="1178.3" stroke="#8c8c8c" stroke-width="1.6"/>
<line x1="243.7" y1="1238.1" x2="243.7" y2="1243.3" stroke="#8c8c8c" stroke-width="1.6"/>
<line x1="258.5" y1="1229.3" x2="258.5" y2="1236.0" stroke="#8c8c8c" stroke-width="1.6"/>
<line x1="273.3" y1="1234.0" x2="273.3" y2="1240.1" stroke="#8c8c8c" stroke-width="1.6"/>
<line x1="288.1" y1="1229.9" x2="288.1" y2="1236.3" stroke="#8c8c8c" stroke-width="1.6"/>
<line x1="302.9" y1="1237.4" x2="302.9" y2="1243.9" stroke="#8c8c8c" stroke-width="1.6"/>
<line x1="317.7" y1="1226.0" x2="317.7" y2="1233.1" stroke="#8c8c8c" stroke-width="1.6"/>
<line x1="332.5" y1="1240.1" x2="332.5" y2="1245.4" stroke="#8c8c8c" stroke-width="1.6"/>
<line x1="347.3" y1="1170.3" x2="347.3" y2="1182.8" stroke="#8c8c8c" stroke-width="1.6"/>
<line x1="362.1" y1="1261.1" x2="362.1" y2="1264.8" stroke="#8c8c8c" stroke-width="1.6"/>
<line x1="376.9" y1="1264.0" x2="376.9" y2="1267.6" stroke="#8c8c8c" stroke-width="1.6"/>
<line x1="391.7" y1="1263.3" x2="391.7" y2="1267.8" stroke="#8c8c8c" stroke-width="1.6"/>
<line x1="406.5" y1="1259.8" x2="406.5" y2="1263.7" stroke="#8c8c8c" stroke-width="1.6"/>
<line x1="421.3" y1="1259.2" x2="421.3" y2="1263.1" stroke="#8c8c8c" stroke-width="1.6"/>
<line x1="436.1" y1="1262.9" x2="436.1" y2="1267.2" stroke="#8c8c8c" stroke-width="1.6"/>
<line x1="450.9" y1="1260.9" x2="450.9" y2="1267.0" stroke="#8c8c8c" stroke-width="1.6"/>
<line x1="465.7" y1="1254.3" x2="465.7" y2="1258.1" stroke="#8c8c8c" stroke-width="1.6"/>
<line x1="480.5" y1="1265.6" x2="480.5" y2="1268.9" stroke="#8c8c8c" stroke-width="1.6"/>
<line x1="495.3" y1="1261.7" x2="495.3" y2="1265.9" stroke="#8c8c8c" stroke-width="1.6"/>
<line x1="510.1" y1="1267.0" x2="510.1" y2="1270.0" stroke="#8c8c8c" stroke-width="1.6"/>
<line x1="524.9" y1="1256.5" x2="524.9" y2="1260.9" stroke="#8c8c8c" stroke-width="1.6"/>
<line x1="539.7" y1="1256.3" x2="539.7" y2="1260.0" stroke="#8c8c8c" stroke-width="1.6"/>
<line x1="554.5" y1="1265.3" x2="554.5" y2="1268.9" stroke="#8c8c8c" stroke-width="1.6"/>
<line x1="569.3" y1="1266.2" x2="569.3" y2="1270.0" stroke="#8c8c8c" stroke-width="1.6"/>
<line x1="584.1" y1="1258.1" x2="584.1" y2="1262.0" stroke="#8c8c8c" stroke-width="1.6"/>
<line x1="598.9" y1="1243.7" x2="598.9" y2="1250.3" stroke="#8c8c8c" stroke-width="1.6"/>
<line x1="613.7" y1="1230.4" x2="613.7" y2="1236.8" stroke="#8c8c8c" stroke-width="1.6"/>
<line x1="628.5" y1="1237.4" x2="628.5" y2="1263.7" stroke="#8c8c8c" stroke-width="1.6"/>
<line x1="643.3" y1="1232.2" x2="643.3" y2="1237.2" stroke="#8c8c8c" stroke-width="1.6"/>
<line x1="658.1" y1="1245.9" x2="658.1" y2="1254.0" stroke="#8c8c8c" stroke-width="1.6"/>
<line x1="672.9" y1="1218.3" x2="672.9" y2="1225.0" stroke="#8c8c8c" stroke-width="1.6"/>
<line x1="687.7" y1="1248.5" x2="687.7" y2="1269.5" stroke="#8c8c8c" stroke-width="1.6"/>
<line x1="702.5" y1="1203.1" x2="702.5" y2="1208.8" stroke="#8c8c8c" stroke-width="1.6"/>
<line x1="717.3" y1="1240.7" x2="717.3" y2="1246.8" stroke="#8c8c8c" stroke-width="1.6"/>
<line x1="732.1" y1="1145.2" x2="732.1" y2="1157.1" stroke="#8c8c8c" stroke-width="1.6"/>
<line x1="746.9" y1="1226.3" x2="746.9" y2="1244.8" stroke="#8c8c8c" stroke-width="1.6"/>
<line x1="761.7" y1="1211.4" x2="761.7" y2="1217.8" stroke="#8c8c8c" stroke-width="1.6"/>
<line x1="776.5" y1="1256.2" x2="776.5" y2="1268.6" stroke="#8c8c8c" stroke-width="1.6"/>
<line x1="791.3" y1="1223.5" x2="791.3" y2="1234.6" stroke="#8c8c8c" stroke-width="1.6"/>
<line x1="806.1" y1="1194.4" x2="806.1" y2="1216.0" stroke="#8c8c8c" stroke-width="1.6"/>
<line x1="820.9" y1="1239.3" x2="820.9" y2="1248.7" stroke="#8c8c8c" stroke-width="1.6"/>
<line x1="835.7" y1="1236.2" x2="835.7" y2="1240.7" stroke="#8c8c8c" stroke-width="1.6"/>
<line x1="850.5" y1="1262.8" x2="850.5" y2="1267.5" stroke="#8c8c8c" stroke-width="1.6"/>
<line x1="865.3" y1="1255.1" x2="865.3" y2="1258.8" stroke="#8c8c8c" stroke-width="1.6"/>
<line x1="880.1" y1="1197.2" x2="880.1" y2="1204.6" stroke="#8c8c8c" stroke-width="1.6"/>
<line x1="894.9" y1="1253.8" x2="894.9" y2="1259.5" stroke="#8c8c8c" stroke-width="1.6"/>
<line x1="909.7" y1="1252.3" x2="909.7" y2="1257.7" stroke="#8c8c8c" stroke-width="1.6"/>
<line x1="924.5" y1="1253.1" x2="924.5" y2="1257.7" stroke="#8c8c8c" stroke-width="1.6"/>
<line x1="939.3" y1="1235.0" x2="939.3" y2="1240.1" stroke="#8c8c8c" stroke-width="1.6"/>
<line x1="954.1" y1="1262.5" x2="954.1" y2="1269.4" stroke="#8c8c8c" stroke-width="1.6"/>
<line x1="968.9" y1="1264.1" x2="968.9" y2="1267.8" stroke="#8c8c8c" stroke-width="1.6"/>
<line x1="983.7" y1="1262.6" x2="983.7" y2="1266.7" stroke="#8c8c8c" stroke-width="1.6"/>
<line x1="998.5" y1="1258.3" x2="998.5" y2="1262.8" stroke="#8c8c8c" stroke-width="1.6"/>
<line x1="1013.3" y1="1256.4" x2="1013.3" y2="1265.2" stroke="#8c8c8c" stroke-width="1.6"/>
<line x1="1028.1" y1="1267.1" x2="1028.1" y2="1269.1" stroke="#8c8c8c" stroke-width="1.6"/>
<line x1="1042.9" y1="1258.9" x2="1042.9" y2="1262.5" stroke="#8c8c8c" stroke-width="1.6"/>
<line x1="1057.7" y1="1255.1" x2="1057.7" y2="1258.8" stroke="#8c8c8c" stroke-width="1.6"/>
<line x1="1072.5" y1="1219.9" x2="1072.5" y2="1227.4" stroke="#8c8c8c" stroke-width="1.6"/>
<line x1="1087.3" y1="1243.3" x2="1087.3" y2="1249.4" stroke="#8c8c8c" stroke-width="1.6"/>
<line x1="1102.1" y1="1252.3" x2="1102.1" y2="1261.0" stroke="#8c8c8c" stroke-width="1.6"/>
<line x1="1116.9" y1="1254.9" x2="1116.9" y2="1259.5" stroke="#8c8c8c" stroke-width="1.6"/>
<line x1="1131.7" y1="1262.3" x2="1131.7" y2="1269.7" stroke="#8c8c8c" stroke-width="1.6"/>
<line x1="1146.5" y1="1247.2" x2="1146.5" y2="1253.1" stroke="#8c8c8c" stroke-width="1.6"/>
<line x1="1161.3" y1="1260.0" x2="1161.3" y2="1268.2" stroke="#8c8c8c" stroke-width="1.6"/>
<line x1="1176.1" y1="1248.3" x2="1176.1" y2="1253.4" stroke="#8c8c8c" stroke-width="1.6"/>
<line x1="1190.9" y1="1219.0" x2="1190.9" y2="1224.8" stroke="#8c8c8c" stroke-width="1.6"/>
<line x1="1205.7" y1="1237.3" x2="1205.7" y2="1242.9" stroke="#8c8c8c" stroke-width="1.6"/>
<line x1="1220.5" y1="1257.2" x2="1220.5" y2="1263.6" stroke="#8c8c8c" stroke-width="1.6"/>
<line x1="1235.3" y1="1212.7" x2="1235.3" y2="1219.3" stroke="#8c8c8c" stroke-width="1.6"/>
<line x1="1250.1" y1="1210.1" x2="1250.1" y2="1220.4" stroke="#8c8c8c" stroke-width="1.6"/>
<line x1="1264.9" y1="1258.3" x2="1264.9" y2="1264.4" stroke="#8c8c8c" stroke-width="1.6"/>
<line x1="1279.7" y1="1258.8" x2="1279.7" y2="1266.6" stroke="#8c8c8c" stroke-width="1.6"/>
<line x1="1294.5" y1="1262.5" x2="1294.5" y2="1267.5" stroke="#8c8c8c" stroke-width="1.6"/>
<line x1="1309.3" y1="1150.5" x2="1309.3" y2="1166.3" stroke="#8c8c8c" stroke-width="1.6"/>
<line x1="1324.1" y1="1247.4" x2="1324.1" y2="1251.7" stroke="#8c8c8c" stroke-width="1.6"/>
<line x1="1338.9" y1="1259.2" x2="1338.9" y2="1262.6" stroke="#8c8c8c" stroke-width="1.6"/>
<line x1="1353.7" y1="1215.9" x2="1353.7" y2="1222.6" stroke="#8c8c8c" stroke-width="1.6"/>
<line x1="1368.5" y1="1261.2" x2="1368.5" y2="1264.7" stroke="#8c8c8c" stroke-width="1.6"/>
<line x1="1383.3" y1="1255.1" x2="1383.3" y2="1258.8" stroke="#8c8c8c" stroke-width="1.6"/>
<line x1="1398.1" y1="1261.1" x2="1398.1" y2="1264.7" stroke="#8c8c8c" stroke-width="1.6"/>
<line x1="1412.9" y1="1222.3" x2="1412.9" y2="1227.8" stroke="#8c8c8c" stroke-width="1.6"/>
<line x1="1427.7" y1="1267.0" x2="1427.7" y2="1269.8" stroke="#8c8c8c" stroke-width="1.6"/>
<line x1="1442.5" y1="1261.2" x2="1442.5" y2="1264.7" stroke="#8c8c8c" stroke-width="1.6"/>
<line x1="1457.3" y1="1265.1" x2="1457.3" y2="1268.7" stroke="#8c8c8c" stroke-width="1.6"/>
<line x1="1472.1" y1="1256.3" x2="1472.1" y2="1259.5" stroke="#8c8c8c" stroke-width="1.6"/>
<line x1="1486.9" y1="953.6" x2="1486.9" y2="990.4" stroke="#8c8c8c" stroke-width="1.6"/>
<line x1="1501.7" y1="1249.3" x2="1501.7" y2="1253.6" stroke="#8c8c8c" stroke-width="1.6"/>
<line x1="1516.5" y1="1249.3" x2="1516.5" y2="1254.0" stroke="#8c8c8c" stroke-width="1.6"/>
<line x1="1531.3" y1="1209.0" x2="1531.3" y2="1215.9" stroke="#8c8c8c" stroke-width="1.6"/>
<rect x="115.6" y="923.8" width="1425.9" height="346.4000000000001" fill="none" stroke="#000" stroke-width="1.6"/>
<line x1="110.5" y1="1270.2" x2="115.6" y2="1270.2" stroke="#444" stroke-width="1.4"/>
<text x="99.0" y="1278.0" font-size="22.5" text-anchor="end" textLength="14.5" lengthAdjust="spacingAndGlyphs">0</text>
<line x1="110.5" y1="1130.9" x2="115.6" y2="1130.9" stroke="#444" stroke-width="1.4"/>
<text x="99.0" y="1138.7" font-size="22.5" text-anchor="end" textLength="50.1" lengthAdjust="spacingAndGlyphs">0.05</text>
<line x1="110.5" y1="991.6" x2="115.6" y2="991.6" stroke="#444" stroke-width="1.4"/>
<text x="99.0" y="999.4" font-size="22.5" text-anchor="end" textLength="45.6" lengthAdjust="spacingAndGlyphs">0.10</text>
<text transform="translate(30.9,1096.3) rotate(-90)" font-size="26" text-anchor="middle" textLength="255.3" lengthAdjust="spacingAndGlyphs">Mutation probability</text>
<text x="828.6" y="1351.7" font-size="26.5" text-anchor="middle" textLength="271.4" lengthAdjust="spacingAndGlyphs">Trinucleotide context</text>
<text x="178.9" y="1152.0" font-size="27.5" textLength="58.2" lengthAdjust="spacingAndGlyphs">CCN</text>
<text x="325.5" y="1163.6" font-size="27.5" textLength="50.9" lengthAdjust="spacingAndGlyphs">TCT</text>
<text x="1288.3" y="1143.6" font-size="27.5" textLength="51.7" lengthAdjust="spacingAndGlyphs">ATA</text>
<text x="1331.8" y="1212.1" font-size="27.5" textLength="49.0" lengthAdjust="spacingAndGlyphs">ATT</text>
<text x="1389.8" y="1218.8" font-size="27.5" textLength="50.2" lengthAdjust="spacingAndGlyphs">CTT</text>
<text x="1430.8" y="981.2" font-size="27.5" textLength="48.6" lengthAdjust="spacingAndGlyphs">TTA</text>
<text x="1495.3" y="1205.0" font-size="27.5" textLength="45.9" lengthAdjust="spacingAndGlyphs">TTT</text>
<text transform="translate(130.7,1312.0) rotate(-90)" font-size="17.2" font-family="'Liberation Mono', 'Courier New', monospace">A<tspan fill="#00BFFF" font-weight="bold">C</tspan>A</text>
<text transform="translate(145.5,1312.0) rotate(-90)" font-size="17.2" font-family="'Liberation Mono', 'Courier New', monospace">A<tspan fill="#00BFFF" font-weight="bold">C</tspan>C</text>
<text transform="translate(160.3,1312.0) rotate(-90)" font-size="17.2" font-family="'Liberation Mono', 'Courier New', monospace">A<tspan fill="#00BFFF" font-weight="bold">C</tspan>G</text>
<text transform="translate(175.1,1312.0) rotate(-90)" font-size="17.2" font-family="'Liberation Mono', 'Courier New', monospace">A<tspan fill="#00BFFF" font-weight="bold">C</tspan>T</text>
<text transform="translate(189.9,1312.0) rotate(-90)" font-size="17.2" font-family="'Liberation Mono', 'Courier New', monospace">C<tspan fill="#00BFFF" font-weight="bold">C</tspan>A</text>
<text transform="translate(204.7,1312.0) rotate(-90)" font-size="17.2" font-family="'Liberation Mono', 'Courier New', monospace">C<tspan fill="#00BFFF" font-weight="bold">C</tspan>C</text>
<text transform="translate(219.5,1312.0) rotate(-90)" font-size="17.2" font-family="'Liberation Mono', 'Courier New', monospace">C<tspan fill="#00BFFF" font-weight="bold">C</tspan>G</text>
<text transform="translate(234.3,1312.0) rotate(-90)" font-size="17.2" font-family="'Liberation Mono', 'Courier New', monospace">C<tspan fill="#00BFFF" font-weight="bold">C</tspan>T</text>
<text transform="translate(249.1,1312.0) rotate(-90)" font-size="17.2" font-family="'Liberation Mono', 'Courier New', monospace">G<tspan fill="#00BFFF" font-weight="bold">C</tspan>A</text>
<text transform="translate(263.9,1312.0) rotate(-90)" font-size="17.2" font-family="'Liberation Mono', 'Courier New', monospace">G<tspan fill="#00BFFF" font-weight="bold">C</tspan>C</text>
<text transform="translate(278.7,1312.0) rotate(-90)" font-size="17.2" font-family="'Liberation Mono', 'Courier New', monospace">G<tspan fill="#00BFFF" font-weight="bold">C</tspan>G</text>
<text transform="translate(293.5,1312.0) rotate(-90)" font-size="17.2" font-family="'Liberation Mono', 'Courier New', monospace">G<tspan fill="#00BFFF" font-weight="bold">C</tspan>T</text>
<text transform="translate(308.3,1312.0) rotate(-90)" font-size="17.2" font-family="'Liberation Mono', 'Courier New', monospace">T<tspan fill="#00BFFF" font-weight="bold">C</tspan>A</text>
<text transform="translate(323.1,1312.0) rotate(-90)" font-size="17.2" font-family="'Liberation Mono', 'Courier New', monospace">T<tspan fill="#00BFFF" font-weight="bold">C</tspan>C</text>
<text transform="translate(337.9,1312.0) rotate(-90)" font-size="17.2" font-family="'Liberation Mono', 'Courier New', monospace">T<tspan fill="#00BFFF" font-weight="bold">C</tspan>G</text>
<text transform="translate(352.7,1312.0) rotate(-90)" font-size="17.2" font-family="'Liberation Mono', 'Courier New', monospace">T<tspan fill="#00BFFF" font-weight="bold">C</tspan>T</text>
<text transform="translate(367.5,1312.0) rotate(-90)" font-size="17.2" font-family="'Liberation Mono', 'Courier New', monospace">A<tspan fill="#000000" font-weight="bold">C</tspan>A</text>
<text transform="translate(382.3,1312.0) rotate(-90)" font-size="17.2" font-family="'Liberation Mono', 'Courier New', monospace">A<tspan fill="#000000" font-weight="bold">C</tspan>C</text>
<text transform="translate(397.1,1312.0) rotate(-90)" font-size="17.2" font-family="'Liberation Mono', 'Courier New', monospace">A<tspan fill="#000000" font-weight="bold">C</tspan>G</text>
<text transform="translate(411.9,1312.0) rotate(-90)" font-size="17.2" font-family="'Liberation Mono', 'Courier New', monospace">A<tspan fill="#000000" font-weight="bold">C</tspan>T</text>
<text transform="translate(426.7,1312.0) rotate(-90)" font-size="17.2" font-family="'Liberation Mono', 'Courier New', monospace">C<tspan fill="#000000" font-weight="bold">C</tspan>A</text>
<text transform="translate(441.5,1312.0) rotate(-90)" font-size="17.2" font-family="'Liberation Mono', 'Courier New', monospace">C<tspan fill="#000000" font-weight="bold">C</tspan>C</text>
<text transform="translate(456.3,1312.0) rotate(-90)" font-size="17.2" font-family="'Liberation Mono', 'Courier New', monospace">C<tspan fill="#000000" font-weight="bold">C</tspan>G</text>
<text transform="translate(471.1,1312.0) rotate(-90)" font-size="17.2" font-family="'Liberation Mono', 'Courier New', monospace">C<tspan fill="#000000" font-weight="bold">C</tspan>T</text>
<text transform="translate(485.9,1312.0) rotate(-90)" font-size="17.2" font-family="'Liberation Mono', 'Courier New', monospace">G<tspan fill="#000000" font-weight="bold">C</tspan>A</text>
<text transform="translate(500.7,1312.0) rotate(-90)" font-size="17.2" font-family="'Liberation Mono', 'Courier New', monospace">G<tspan fill="#000000" font-weight="bold">C</tspan>C</text>
<text transform="translate(515.5,1312.0) rotate(-90)" font-size="17.2" font-family="'Liberation Mono', 'Courier New', monospace">G<tspan fill="#000000" font-weight="bold">C</tspan>G</text>
<text transform="translate(530.3,1312.0) rotate(-90)" font-size="17.2" font-family="'Liberation Mono', 'Courier New', monospace">G<tspan fill="#000000" font-weight="bold">C</tspan>T</text>
<text transform="translate(545.1,1312.0) rotate(-90)" font-size="17.2" font-family="'Liberation Mono', 'Courier New', monospace">T<tspan fill="#000000" font-weight="bold">C</tspan>A</text>
<text transform="translate(559.9,1312.0) rotate(-90)" font-size="17.2" font-family="'Liberation Mono', 'Courier New', monospace">T<tspan fill="#000000" font-weight="bold">C</tspan>C</text>
<text transform="translate(574.7,1312.0) rotate(-90)" font-size="17.2" font-family="'Liberation Mono', 'Courier New', monospace">T<tspan fill="#000000" font-weight="bold">C</tspan>G</text>
<text transform="translate(589.5,1312.0) rotate(-90)" font-size="17.2" font-family="'Liberation Mono', 'Courier New', monospace">T<tspan fill="#000000" font-weight="bold">C</tspan>T</text>
<text transform="translate(604.3,1312.0) rotate(-90)" font-size="17.2" font-family="'Liberation Mono', 'Courier New', monospace">A<tspan fill="#EE2C2C" font-weight="bold">C</tspan>A</text>
<text transform="translate(619.1,1312.0) rotate(-90)" font-size="17.2" font-family="'Liberation Mono', 'Courier New', monospace">A<tspan fill="#EE2C2C" font-weight="bold">C</tspan>C</text>
<text transform="translate(633.9,1312.0) rotate(-90)" font-size="17.2" font-family="'Liberation Mono', 'Courier New', monospace">A<tspan fill="#EE2C2C" font-weight="bold">C</tspan>G</text>
<text transform="translate(648.7,1312.0) rotate(-90)" font-size="17.2" font-family="'Liberation Mono', 'Courier New', monospace">A<tspan fill="#EE2C2C" font-weight="bold">C</tspan>T</text>
<text transform="translate(663.5,1312.0) rotate(-90)" font-size="17.2" font-family="'Liberation Mono', 'Courier New', monospace">C<tspan fill="#EE2C2C" font-weight="bold">C</tspan>A</text>
<text transform="translate(678.3,1312.0) rotate(-90)" font-size="17.2" font-family="'Liberation Mono', 'Courier New', monospace">C<tspan fill="#EE2C2C" font-weight="bold">C</tspan>C</text>
<text transform="translate(693.1,1312.0) rotate(-90)" font-size="17.2" font-family="'Liberation Mono', 'Courier New', monospace">C<tspan fill="#EE2C2C" font-weight="bold">C</tspan>G</text>
<text transform="translate(707.9,1312.0) rotate(-90)" font-size="17.2" font-family="'Liberation Mono', 'Courier New', monospace">C<tspan fill="#EE2C2C" font-weight="bold">C</tspan>T</text>
<text transform="translate(722.7,1312.0) rotate(-90)" font-size="17.2" font-family="'Liberation Mono', 'Courier New', monospace">G<tspan fill="#EE2C2C" font-weight="bold">C</tspan>A</text>
<text transform="translate(737.5,1312.0) rotate(-90)" font-size="17.2" font-family="'Liberation Mono', 'Courier New', monospace">G<tspan fill="#EE2C2C" font-weight="bold">C</tspan>C</text>
<text transform="translate(752.3,1312.0) rotate(-90)" font-size="17.2" font-family="'Liberation Mono', 'Courier New', monospace">G<tspan fill="#EE2C2C" font-weight="bold">C</tspan>G</text>
<text transform="translate(767.1,1312.0) rotate(-90)" font-size="17.2" font-family="'Liberation Mono', 'Courier New', monospace">G<tspan fill="#EE2C2C" font-weight="bold">C</tspan>T</text>
<text transform="translate(781.9,1312.0) rotate(-90)" font-size="17.2" font-family="'Liberation Mono', 'Courier New', monospace">T<tspan fill="#EE2C2C" font-weight="bold">C</tspan>A</text>
<text transform="translate(796.7,1312.0) rotate(-90)" font-size="17.2" font-family="'Liberation Mono', 'Courier New', monospace">T<tspan fill="#EE2C2C" font-weight="bold">C</tspan>C</text>
<text transform="translate(811.5,1312.0) rotate(-90)" font-size="17.2" font-family="'Liberation Mono', 'Courier New', monospace">T<tspan fill="#EE2C2C" font-weight="bold">C</tspan>G</text>
<text transform="translate(826.3,1312.0) rotate(-90)" font-size="17.2" font-family="'Liberation Mono', 'Courier New', monospace">T<tspan fill="#EE2C2C" font-weight="bold">C</tspan>T</text>
<text transform="translate(841.1,1312.0) rotate(-90)" font-size="17.2" font-family="'Liberation Mono', 'Courier New', monospace">A<tspan fill="#C2C2C2" font-weight="bold">T</tspan>A</text>
<text transform="translate(855.9,1312.0) rotate(-90)" font-size="17.2" font-family="'Liberation Mono', 'Courier New', monospace">A<tspan fill="#C2C2C2" font-weight="bold">T</tspan>C</text>
<text transform="translate(870.7,1312.0) rotate(-90)" font-size="17.2" font-family="'Liberation Mono', 'Courier New', monospace">A<tspan fill="#C2C2C2" font-weight="bold">T</tspan>G</text>
<text transform="translate(885.5,1312.0) rotate(-90)" font-size="17.2" font-family="'Liberation Mono', 'Courier New', monospace">A<tspan fill="#C2C2C2" font-weight="bold">T</tspan>T</text>
<text transform="translate(900.3,1312.0) rotate(-90)" font-size="17.2" font-family="'Liberation Mono', 'Courier New', monospace">C<tspan fill="#C2C2C2" font-weight="bold">T</tspan>A</text>
<text transform="translate(915.1,1312.0) rotate(-90)" font-size="17.2" font-family="'Liberation Mono', 'Courier New', monospace">C<tspan fill="#C2C2C2" font-weight="bold">T</tspan>C</text>
<text transform="translate(929.9,1312.0) rotate(-90)" font-size="17.2" font-family="'Liberation Mono', 'Courier New', monospace">C<tspan fill="#C2C2C2" font-weight="bold">T</tspan>G</text>
<text transform="translate(944.7,1312.0) rotate(-90)" font-size="17.2" font-family="'Liberation Mono', 'Courier New', monospace">C<tspan fill="#C2C2C2" font-weight="bold">T</tspan>T</text>
<text transform="translate(959.5,1312.0) rotate(-90)" font-size="17.2" font-family="'Liberation Mono', 'Courier New', monospace">G<tspan fill="#C2C2C2" font-weight="bold">T</tspan>A</text>
<text transform="translate(974.3,1312.0) rotate(-90)" font-size="17.2" font-family="'Liberation Mono', 'Courier New', monospace">G<tspan fill="#C2C2C2" font-weight="bold">T</tspan>C</text>
<text transform="translate(989.1,1312.0) rotate(-90)" font-size="17.2" font-family="'Liberation Mono', 'Courier New', monospace">G<tspan fill="#C2C2C2" font-weight="bold">T</tspan>G</text>
<text transform="translate(1003.9,1312.0) rotate(-90)" font-size="17.2" font-family="'Liberation Mono', 'Courier New', monospace">G<tspan fill="#C2C2C2" font-weight="bold">T</tspan>T</text>
<text transform="translate(1018.7,1312.0) rotate(-90)" font-size="17.2" font-family="'Liberation Mono', 'Courier New', monospace">T<tspan fill="#C2C2C2" font-weight="bold">T</tspan>A</text>
<text transform="translate(1033.5,1312.0) rotate(-90)" font-size="17.2" font-family="'Liberation Mono', 'Courier New', monospace">T<tspan fill="#C2C2C2" font-weight="bold">T</tspan>C</text>
<text transform="translate(1048.3,1312.0) rotate(-90)" font-size="17.2" font-family="'Liberation Mono', 'Courier New', monospace">T<tspan fill="#C2C2C2" font-weight="bold">T</tspan>G</text>
<text transform="translate(1063.1,1312.0) rotate(-90)" font-size="17.2" font-family="'Liberation Mono', 'Courier New', monospace">T<tspan fill="#C2C2C2" font-weight="bold">T</tspan>T</text>
<text transform="translate(1077.9,1312.0) rotate(-90)" font-size="17.2" font-family="'Liberation Mono', 'Courier New', monospace">A<tspan fill="#A2CD5A" font-weight="bold">T</tspan>A</text>
<text transform="translate(1092.7,1312.0) rotate(-90)" font-size="17.2" font-family="'Liberation Mono', 'Courier New', monospace">A<tspan fill="#A2CD5A" font-weight="bold">T</tspan>C</text>
<text transform="translate(1107.5,1312.0) rotate(-90)" font-size="17.2" font-family="'Liberation Mono', 'Courier New', monospace">A<tspan fill="#A2CD5A" font-weight="bold">T</tspan>G</text>
<text transform="translate(1122.3,1312.0) rotate(-90)" font-size="17.2" font-family="'Liberation Mono', 'Courier New', monospace">A<tspan fill="#A2CD5A" font-weight="bold">T</tspan>T</text>
<text transform="translate(1137.1,1312.0) rotate(-90)" font-size="17.2" font-family="'Liberation Mono', 'Courier New', monospace">C<tspan fill="#A2CD5A" font-weight="bold">T</tspan>A</text>
<text transform="translate(1151.9,1312.0) rotate(-90)" font-size="17.2" font-family="'Liberation Mono', 'Courier New', monospace">C<tspan fill="#A2CD5A" font-weight="bold">T</tspan>C</text>
<text transform="translate(1166.7,1312.0) rotate(-90)" font-size="17.2" font-family="'Liberation Mono', 'Courier New', monospace">C<tspan fill="#A2CD5A" font-weight="bold">T</tspan>G</text>
<text transform="translate(1181.5,1312.0) rotate(-90)" font-size="17.2" font-family="'Liberation Mono', 'Courier New', monospace">C<tspan fill="#A2CD5A" font-weight="bold">T</tspan>T</text>
<text transform="translate(1196.3,1312.0) rotate(-90)" font-size="17.2" font-family="'Liberation Mono', 'Courier New', monospace">G<tspan fill="#A2CD5A" font-weight="bold">T</tspan>A</text>
<text transform="translate(1211.1,1312.0) rotate(-90)" font-size="17.2" font-family="'Liberation Mono', 'Courier New', monospace">G<tspan fill="#A2CD5A" font-weight="bold">T</tspan>C</text>
<text transform="translate(1225.9,1312.0) rotate(-90)" font-size="17.2" font-family="'Liberation Mono', 'Courier New', monospace">G<tspan fill="#A2CD5A" font-weight="bold">T</tspan>G</text>
<text transform="translate(1240.7,1312.0) rotate(-90)" font-size="17.2" font-family="'Liberation Mono', 'Courier New', monospace">G<tspan fill="#A2CD5A" font-weight="bold">T</tspan>T</text>
<text transform="translate(1255.5,1312.0) rotate(-90)" font-size="17.2" font-family="'Liberation Mono', 'Courier New', monospace">T<tspan fill="#A2CD5A" font-weight="bold">T</tspan>A</text>
<text transform="translate(1270.3,1312.0) rotate(-90)" font-size="17.2" font-family="'Liberation Mono', 'Courier New', monospace">T<tspan fill="#A2CD5A" font-weight="bold">T</tspan>C</text>
<text transform="translate(1285.1,1312.0) rotate(-90)" font-size="17.2" font-family="'Liberation Mono', 'Courier New', monospace">T<tspan fill="#A2CD5A" font-weight="bold">T</tspan>G</text>
<text transform="translate(1299.9,1312.0) rotate(-90)" font-size="17.2" font-family="'Liberation Mono', 'Courier New', monospace">T<tspan fill="#A2CD5A" font-weight="bold">T</tspan>T</text>
<text transform="translate(1314.7,1312.0) rotate(-90)" font-size="17.2" font-family="'Liberation Mono', 'Courier New', monospace">A<tspan fill="#EEB4B4" font-weight="bold">T</tspan>A</text>
<text transform="translate(1329.5,1312.0) rotate(-90)" font-size="17.2" font-family="'Liberation Mono', 'Courier New', monospace">A<tspan fill="#EEB4B4" font-weight="bold">T</tspan>C</text>
<text transform="translate(1344.3,1312.0) rotate(-90)" font-size="17.2" font-family="'Liberation Mono', 'Courier New', monospace">A<tspan fill="#EEB4B4" font-weight="bold">T</tspan>G</text>
<text transform="translate(1359.1,1312.0) rotate(-90)" font-size="17.2" font-family="'Liberation Mono', 'Courier New', monospace">A<tspan fill="#EEB4B4" font-weight="bold">T</tspan>T</text>
<text transform="translate(1373.9,1312.0) rotate(-90)" font-size="17.2" font-family="'Liberation Mono', 'Courier New', monospace">C<tspan fill="#EEB4B4" font-weight="bold">T</tspan>A</text>
<text transform="translate(1388.7,1312.0) rotate(-90)" font-size="17.2" font-family="'Liberation Mono', 'Courier New', monospace">C<tspan fill="#EEB4B4" font-weight="bold">T</tspan>C</text>
<text transform="translate(1403.5,1312.0) rotate(-90)" font-size="17.2" font-family="'Liberation Mono', 'Courier New', monospace">C<tspan fill="#EEB4B4" font-weight="bold">T</tspan>G</text>
<text transform="translate(1418.3,1312.0) rotate(-90)" font-size="17.2" font-family="'Liberation Mono', 'Courier New', monospace">C<tspan fill="#EEB4B4" font-weight="bold">T</tspan>T</text>
<text transform="translate(1433.1,1312.0) rotate(-90)" font-size="17.2" font-family="'Liberation Mono', 'Courier New', monospace">G<tspan fill="#EEB4B4" font-weight="bold">T</tspan>A</text>
<text transform="translate(1447.9,1312.0) rotate(-90)" font-size="17.2" font-family="'Liberation Mono', 'Courier New', monospace">G<tspan fill="#EEB4B4" font-weight="bold">T</tspan>C</text>
<text transform="translate(1462.7,1312.0) rotate(-90)" font-size="17.2" font-family="'Liberation Mono', 'Courier New', monospace">G<tspan fill="#EEB4B4" font-weight="bold">T</tspan>G</text>
<text transform="translate(1477.5,1312.0) rotate(-90)" font-size="17.2" font-family="'Liberation Mono', 'Courier New', monospace">G<tspan fill="#EEB4B4" font-weight="bold">T</tspan>T</text>
<text transform="translate(1492.3,1312.0) rotate(-90)" font-size="17.2" font-family="'Liberation Mono', 'Courier New', monospace">T<tspan fill="#EEB4B4" font-weight="bold">T</tspan>A</text>
<text transform="translate(1507.1,1312.0) rotate(-90)" font-size="17.2" font-family="'Liberation Mono', 'Courier New', monospace">T<tspan fill="#EEB4B4" font-weight="bold">T</tspan>C</text>
<text transform="translate(1521.9,1312.0) rotate(-90)" font-size="17.2" font-family="'Liberation Mono', 'Courier New', monospace">T<tspan fill="#EEB4B4" font-weight="bold">T</tspan>G</text>
<text transform="translate(1536.7,1312.0) rotate(-90)" font-size="17.2" font-family="'Liberation Mono', 'Courier New', monospace">T<tspan fill="#EEB4B4" font-weight="bold">T</tspan>T</text>
<polygon fill="#D4D4D4" points="1166.3,188.8 1173.3,188.0 1180.3,187.3 1187.3,186.5 1194.3,185.7 1201.3,184.9 1208.3,184.1 1215.3,183.3 1222.3,182.5 1229.3,181.7 1236.3,180.8 1243.3,180.0 1250.3,179.1 1257.3,178.2 1264.3,177.3 1271.3,176.4 1278.4,175.4 1285.4,174.5 1292.4,173.5 1299.4,172.5 1306.4,171.5 1313.4,170.4 1320.4,169.3 1327.4,168.2 1334.4,167.1 1341.4,166.0 1348.4,164.8 1355.4,163.6 1362.4,162.3 1369.4,161.0 1376.4,159.7 1383.4,158.4 1390.4,157.0 1397.4,155.6 1404.4,154.1 1411.4,152.7 1418.4,151.1 1425.4,149.6 1432.4,148.0 1439.4,146.4 1446.4,144.7 1453.4,143.0 1460.4,141.3 1467.4,139.6 1474.4,137.8 1481.5,136.0 1488.5,134.1 1495.5,132.3 1502.5,130.4 1509.5,128.5 1516.5,126.5 1523.5,124.5 1530.5,122.6 1537.5,120.5 1544.5,118.5 1551.5,116.5 1558.5,114.4 1565.5,112.3 1572.5,110.2 1579.5,108.1 1586.5,106.0 1586.5,175.2 1579.5,176.1 1572.5,177.0 1565.5,177.8 1558.5,178.7 1551.5,179.7 1544.5,180.6 1537.5,181.6 1530.5,182.5 1523.5,183.5 1516.5,184.6 1509.5,185.6 1502.5,186.7 1495.5,187.8 1488.5,188.9 1481.5,190.0 1474.4,191.2 1467.4,192.4 1460.4,193.6 1453.4,194.9 1446.4,196.2 1439.4,197.5 1432.4,198.9 1425.4,200.3 1418.4,201.7 1411.4,203.2 1404.4,204.7 1397.4,206.2 1390.4,207.8 1383.4,209.4 1376.4,211.1 1369.4,212.8 1362.4,214.5 1355.4,216.2 1348.4,218.0 1341.4,219.8 1334.4,221.6 1327.4,223.5 1320.4,225.4 1313.4,227.3 1306.4,229.2 1299.4,231.2 1292.4,233.2 1285.4,235.2 1278.4,237.2 1271.3,239.2 1264.3,241.3 1257.3,243.4 1250.3,245.5 1243.3,247.6 1236.3,249.7 1229.3,251.8 1222.3,254.0 1215.3,256.2 1208.3,258.3 1201.3,260.5 1194.3,262.7 1187.3,264.9 1180.3,267.1 1173.3,269.4 1166.3,271.6"/>
<line x1="1166.3" y1="230.2" x2="1586.5" y2="140.6" stroke="#000" stroke-width="4.6"/>
<line x1="1166.3" y1="158.5" x2="1166.3" y2="318.3" stroke="#0000FF" stroke-width="2.6"/>
<circle cx="1166.3" cy="238.6" r="6.0" fill="#0000FF"/>
<line x1="1195.6" y1="135.0" x2="1195.6" y2="292.6" stroke="#0000FF" stroke-width="2.6"/>
<circle cx="1195.6" cy="213.8" r="6.0" fill="#0000FF"/>
<line x1="1549.7" y1="85.0" x2="1549.7" y2="239.5" stroke="#0000FF" stroke-width="2.6"/>
<circle cx="1549.7" cy="162.2" r="6.0" fill="#0000FF"/>
<line x1="1553.5" y1="65.2" x2="1553.5" y2="213.8" stroke="#0000FF" stroke-width="2.6"/>
<circle cx="1553.5" cy="139.4" r="6.0" fill="#0000FF"/>
<line x1="1586.5" y1="53.2" x2="1586.5" y2="211.7" stroke="#0000FF" stroke-width="2.6"/>
<circle cx="1586.5" cy="132.0" r="6.0" fill="#0000FF"/>
<polyline points="1145.2,40 1145.2,331.6 1607,331.6" fill="none" stroke="#2a2a2a" stroke-width="1.6" stroke-linejoin="miter"/>
<line x1="1138.7" y1="78.2" x2="1145.2" y2="78.2" stroke="#2a2a2a" stroke-width="1.5"/>
<text x="1126.7" y="86.0" font-size="22.5" text-anchor="end" textLength="25.4" lengthAdjust="spacingAndGlyphs">75</text>
<line x1="1138.7" y1="129.3" x2="1145.2" y2="129.3" stroke="#2a2a2a" stroke-width="1.5"/>
<text x="1126.7" y="137.2" font-size="22.5" text-anchor="end" textLength="25.9" lengthAdjust="spacingAndGlyphs">74</text>
<line x1="1138.7" y1="180.5" x2="1145.2" y2="180.5" stroke="#2a2a2a" stroke-width="1.5"/>
<text x="1126.7" y="188.3" font-size="22.5" text-anchor="end" textLength="25.4" lengthAdjust="spacingAndGlyphs">73</text>
<line x1="1138.7" y1="231.6" x2="1145.2" y2="231.6" stroke="#2a2a2a" stroke-width="1.5"/>
<text x="1126.7" y="239.4" font-size="22.5" text-anchor="end" textLength="25.4" lengthAdjust="spacingAndGlyphs">72</text>
<line x1="1138.7" y1="282.8" x2="1145.2" y2="282.8" stroke="#2a2a2a" stroke-width="1.5"/>
<text x="1126.7" y="290.6" font-size="22.5" text-anchor="end" textLength="19.9" lengthAdjust="spacingAndGlyphs">71</text>
<line x1="1176.1" y1="331.6" x2="1176.1" y2="338.1" stroke="#2a2a2a" stroke-width="1.5"/>
<text x="1176.1" y="366.0" font-size="22.5" text-anchor="middle" textLength="51.4" lengthAdjust="spacingAndGlyphs">2014</text>
<line x1="1288.1" y1="331.6" x2="1288.1" y2="338.1" stroke="#2a2a2a" stroke-width="1.5"/>
<text x="1288.1" y="366.0" font-size="22.5" text-anchor="middle" textLength="51.4" lengthAdjust="spacingAndGlyphs">2016</text>
<line x1="1400.1" y1="331.6" x2="1400.1" y2="338.1" stroke="#2a2a2a" stroke-width="1.5"/>
<text x="1400.1" y="366.0" font-size="22.5" text-anchor="middle" textLength="51.4" lengthAdjust="spacingAndGlyphs">2018</text>
<line x1="1512.1" y1="331.6" x2="1512.1" y2="338.1" stroke="#2a2a2a" stroke-width="1.5"/>
<text x="1512.1" y="366.0" font-size="22.5" text-anchor="middle" textLength="51.4" lengthAdjust="spacingAndGlyphs">2020</text>
<text transform="translate(1044.2,184.5) rotate(-90)" font-size="26" text-anchor="middle" textLength="196.6" lengthAdjust="spacingAndGlyphs">Sig5' mutations</text>
<text transform="translate(1076.1,185.6) rotate(-90)" font-size="26" text-anchor="middle" textLength="89.4" lengthAdjust="spacingAndGlyphs">per Mb</text>
<text x="1376.7" y="405.0" font-size="26.5" text-anchor="middle" textLength="171.0" lengthAdjust="spacingAndGlyphs">Year sampled</text>
<text x="1275.4" y="195.8" font-size="25.5" textLength="230.5" lengthAdjust="spacingAndGlyphs" transform="rotate(-12.04 1275.4 195.8)">231 mu Gb<tspan font-size="17.5" dy="-12">−1</tspan><tspan dy="12" dx="4"> year</tspan><tspan font-size="17.5" dy="-12">−1</tspan></text>
<text x="1480.2" y="282.4" font-size="26" textLength="125.4" lengthAdjust="spacingAndGlyphs"><tspan font-style="italic">R</tspan><tspan font-size="17" dy="-11">2</tspan><tspan dy="11"> : 0.903</tspan></text>
<text x="1480.2" y="319.3" font-size="26" textLength="112.4" lengthAdjust="spacingAndGlyphs"><tspan font-style="italic">P</tspan> = 0.013</text>
<polygon fill="#D4D4D4" points="1189.0,545.8 1195.6,545.8 1202.2,545.8 1208.8,545.8 1215.4,545.8 1222.0,545.7 1228.6,545.6 1235.2,545.5 1241.8,545.4 1248.4,545.3 1255.0,545.1 1261.6,544.9 1268.2,544.6 1274.8,544.4 1281.4,544.1 1288.0,543.7 1294.6,543.3 1301.2,542.9 1307.8,542.4 1314.4,541.9 1321.0,541.3 1327.6,540.7 1334.2,540.0 1340.8,539.3 1347.4,538.5 1354.0,537.6 1360.6,536.7 1367.2,535.7 1373.8,534.7 1380.4,533.5 1387.0,532.4 1393.6,531.1 1400.2,529.7 1406.8,528.3 1413.4,526.8 1420.0,525.3 1426.6,523.6 1433.2,521.9 1439.8,520.1 1446.4,518.2 1453.0,516.3 1459.6,514.3 1466.2,512.2 1472.8,510.0 1479.4,507.8 1486.0,505.5 1492.6,503.1 1499.2,500.7 1505.8,498.2 1512.4,495.7 1519.0,493.1 1525.6,490.4 1532.2,487.7 1538.8,485.0 1545.4,482.2 1552.0,479.4 1558.6,476.5 1565.2,473.6 1571.8,470.7 1578.4,467.7 1585.0,464.7 1585.0,618.3 1578.4,618.5 1571.8,618.8 1565.2,619.0 1558.6,619.3 1552.0,619.7 1545.4,620.1 1538.8,620.5 1532.2,621.0 1525.6,621.5 1519.0,622.1 1512.4,622.7 1505.8,623.4 1499.2,624.1 1492.6,624.9 1486.0,625.8 1479.4,626.7 1472.8,627.7 1466.2,628.7 1459.6,629.9 1453.0,631.1 1446.4,632.3 1439.8,633.7 1433.2,635.1 1426.6,636.6 1420.0,638.1 1413.4,639.8 1406.8,641.5 1400.2,643.3 1393.6,645.2 1387.0,647.1 1380.4,649.2 1373.8,651.3 1367.2,653.4 1360.6,655.7 1354.0,658.0 1347.4,660.3 1340.8,662.7 1334.2,665.2 1327.6,667.8 1321.0,670.4 1314.4,673.0 1307.8,675.7 1301.2,678.4 1294.6,681.2 1288.0,684.0 1281.4,686.9 1274.8,689.8 1268.2,692.8 1261.6,695.7 1255.0,698.7 1248.4,701.8 1241.8,704.8 1235.2,707.9 1228.6,711.1 1222.0,714.2 1215.4,717.4 1208.8,720.6 1202.2,723.8 1195.6,727.0 1189.0,730.2"/>
<line x1="1189.0" y1="638.0" x2="1585.0" y2="541.5" stroke="#000" stroke-width="5.1"/>
<line x1="1189.0" y1="582.9" x2="1189.0" y2="639.6" stroke="#0000FF" stroke-width="2.6"/>
<circle cx="1189.0" cy="611.1" r="6.0" fill="#0000FF"/>
<line x1="1214.6" y1="626.6" x2="1214.6" y2="689.1" stroke="#0000FF" stroke-width="2.6"/>
<circle cx="1214.6" cy="658.0" r="6.0" fill="#0000FF"/>
<line x1="1552.0" y1="567.7" x2="1552.0" y2="621.8" stroke="#0000FF" stroke-width="2.6"/>
<circle cx="1552.0" cy="594.6" r="6.0" fill="#0000FF"/>
<line x1="1559.7" y1="496.5" x2="1559.7" y2="558.6" stroke="#0000FF" stroke-width="2.6"/>
<circle cx="1559.7" cy="528.2" r="6.0" fill="#0000FF"/>
<line x1="1585.0" y1="480.0" x2="1585.0" y2="542.4" stroke="#0000FF" stroke-width="2.6"/>
<circle cx="1585.0" cy="511.4" r="6.0" fill="#0000FF"/>
<polyline points="1169.3,451.8 1169.3,743.2 1604.4,743.2" fill="none" stroke="#2a2a2a" stroke-width="1.6" stroke-linejoin="miter"/>
<line x1="1162.8" y1="522.4" x2="1169.3" y2="522.4" stroke="#2a2a2a" stroke-width="1.5"/>
<text x="1150.5" y="530.2" font-size="22.5" text-anchor="end" textLength="61.2" lengthAdjust="spacingAndGlyphs">160.0</text>
<line x1="1162.8" y1="586.1" x2="1169.3" y2="586.1" stroke="#2a2a2a" stroke-width="1.5"/>
<text x="1150.5" y="593.9" font-size="22.5" text-anchor="end" textLength="55.1" lengthAdjust="spacingAndGlyphs">157.5</text>
<line x1="1162.8" y1="649.6" x2="1169.3" y2="649.6" stroke="#2a2a2a" stroke-width="1.5"/>
<text x="1150.5" y="657.4" font-size="22.5" text-anchor="end" textLength="59.1" lengthAdjust="spacingAndGlyphs">155.0</text>
<line x1="1162.8" y1="713.4" x2="1169.3" y2="713.4" stroke="#2a2a2a" stroke-width="1.5"/>
<text x="1150.5" y="721.2" font-size="22.5" text-anchor="end" textLength="55.6" lengthAdjust="spacingAndGlyphs">152.5</text>
<line x1="1197.5" y1="743.2" x2="1197.5" y2="749.7" stroke="#2a2a2a" stroke-width="1.5"/>
<text x="1197.5" y="779.4" font-size="22.5" text-anchor="middle" textLength="51.4" lengthAdjust="spacingAndGlyphs">2014</text>
<line x1="1303.6" y1="743.2" x2="1303.6" y2="749.7" stroke="#2a2a2a" stroke-width="1.5"/>
<text x="1303.6" y="779.4" font-size="22.5" text-anchor="middle" textLength="51.4" lengthAdjust="spacingAndGlyphs">2016</text>
<line x1="1409.6" y1="743.2" x2="1409.6" y2="749.7" stroke="#2a2a2a" stroke-width="1.5"/>
<text x="1409.6" y="779.4" font-size="22.5" text-anchor="middle" textLength="51.4" lengthAdjust="spacingAndGlyphs">2018</text>
<line x1="1515.7" y1="743.2" x2="1515.7" y2="749.7" stroke="#2a2a2a" stroke-width="1.5"/>
<text x="1515.7" y="779.4" font-size="22.5" text-anchor="middle" textLength="51.4" lengthAdjust="spacingAndGlyphs">2020</text>
<text transform="translate(1043.6,597.7) rotate(-90)" font-size="26" text-anchor="middle" textLength="191.0" lengthAdjust="spacingAndGlyphs">SigS mutations</text>
<text transform="translate(1076.2,597.0) rotate(-90)" font-size="26" text-anchor="middle" textLength="88.1" lengthAdjust="spacingAndGlyphs">per Mb</text>
<text x="1376.4" y="819.2" font-size="26.5" text-anchor="middle" textLength="171.5" lengthAdjust="spacingAndGlyphs">Year sampled</text>
<text x="1286.8" y="601.6" font-size="25.5" textLength="236.1" lengthAdjust="spacingAndGlyphs" transform="rotate(-13.7 1286.8 601.6)">507 mu Gb<tspan font-size="17.5" dy="-12">−1</tspan><tspan dy="12" dx="4"> year</tspan><tspan font-size="17.5" dy="-12">−1</tspan></text>
<text x="1479.0" y="695.2" font-size="26" textLength="119.1" lengthAdjust="spacingAndGlyphs"><tspan font-style="italic">R</tspan><tspan font-size="17" dy="-11">2</tspan><tspan dy="11"> : 0.681</tspan></text>
<text x="1479.0" y="731.8" font-size="26" textLength="119.1" lengthAdjust="spacingAndGlyphs"><tspan font-style="italic">P</tspan> = 0.085</text>
<rect x="2029.50" y="342.10" width="112.50" height="27.70" fill="#F6F8FC"/>
<line x1="1753.2" y1="36.2" x2="2141.5" y2="36.2" stroke="#444" stroke-width="1.85" stroke-dasharray="12.5,6.3"/>
<line x1="1742.2" y1="377.3" x2="1752.4" y2="377.3" stroke="#2a2a2a" stroke-width="1.5"/>
<text x="1729.7" y="384.8" font-size="22.5" text-anchor="end" textLength="15.0" lengthAdjust="spacingAndGlyphs">0</text>
<line x1="1742.2" y1="306.6" x2="1752.4" y2="306.6" stroke="#2a2a2a" stroke-width="1.5"/>
<text x="1729.7" y="314.1" font-size="22.5" text-anchor="end" textLength="35.1" lengthAdjust="spacingAndGlyphs">0.1</text>
<line x1="1742.2" y1="235.9" x2="1752.4" y2="235.9" stroke="#2a2a2a" stroke-width="1.5"/>
<text x="1729.7" y="243.4" font-size="22.5" text-anchor="end" textLength="35.1" lengthAdjust="spacingAndGlyphs">0.2</text>
<line x1="1742.2" y1="165.2" x2="1752.4" y2="165.2" stroke="#2a2a2a" stroke-width="1.5"/>
<text x="1729.7" y="172.7" font-size="22.5" text-anchor="end" textLength="35.1" lengthAdjust="spacingAndGlyphs">0.3</text>
<line x1="1742.2" y1="94.5" x2="1752.4" y2="94.5" stroke="#2a2a2a" stroke-width="1.5"/>
<text x="1729.7" y="102.0" font-size="22.5" text-anchor="end" textLength="35.1" lengthAdjust="spacingAndGlyphs">0.4</text>
<line x1="1742.2" y1="23.8" x2="1752.4" y2="23.8" stroke="#2a2a2a" stroke-width="1.5"/>
<line x1="1780.4" y1="396.8" x2="1780.4" y2="406.8" stroke="#2a2a2a" stroke-width="1.5"/>
<line x1="1828.1" y1="396.8" x2="1828.1" y2="406.8" stroke="#2a2a2a" stroke-width="1.5"/>
<line x1="1875.6" y1="396.8" x2="1875.6" y2="406.8" stroke="#2a2a2a" stroke-width="1.5"/>
<line x1="1923.2" y1="396.8" x2="1923.2" y2="406.8" stroke="#2a2a2a" stroke-width="1.5"/>
<line x1="1970.6" y1="396.8" x2="1970.6" y2="406.8" stroke="#2a2a2a" stroke-width="1.5"/>
<line x1="2018.3" y1="396.8" x2="2018.3" y2="406.8" stroke="#2a2a2a" stroke-width="1.5"/>
<line x1="2065.8" y1="396.8" x2="2065.8" y2="406.8" stroke="#2a2a2a" stroke-width="1.5"/>
<line x1="2113.3" y1="396.8" x2="2113.3" y2="406.8" stroke="#2a2a2a" stroke-width="1.5"/>
<polyline points="1752.4,23.0 1752.4,396.8 2141.5,396.8" fill="none" stroke="#2a2a2a" stroke-width="1.6"/>
<line x1="1752.8" y1="359.7" x2="2030.0" y2="359.7" stroke="#000" stroke-width="3.8" stroke-dasharray="15.7,15.7"/>
<path d="M2028.6,339 L2037,339 Q2042.4,339 2042.4,344.5 L2042.4,346.5 Q2042.4,349.2 2046,349.2 L2056.3,349.2 M2046,349.2 Q2042.4,349.2 2042.4,352 L2042.4,354.5 Q2042.4,359.7 2037,359.7 L2028,359.7" fill="none" stroke="#000" stroke-width="3.8"/>
<circle cx="1778.9" cy="359.7" r="8.8" fill="#000"/>
<circle cx="1826.6" cy="359.7" r="8.8" fill="#000"/>
<circle cx="1874.1" cy="359.7" r="8.8" fill="#000"/>
<circle cx="1921.5" cy="358.7" r="8.6" fill="#BEBEBE"/>
<circle cx="1968.8" cy="358.7" r="8.6" fill="#BEBEBE"/>
<circle cx="2016.2" cy="339.7" r="8.6" fill="#BEBEBE"/>
<circle cx="2063.1" cy="44.3" r="8.6" fill="#0000FF"/>
<circle cx="2110.4" cy="30.6" r="8.6" fill="#FF0000"/>
<text x="2071.0" y="377.6" font-size="26" textLength="45.9" lengthAdjust="spacingAndGlyphs">53k</text>
<text transform="translate(1788.7,340.6) rotate(-90)" font-size="27" textLength="114.2" lengthAdjust="spacingAndGlyphs">MELC-A9</text>
<text transform="translate(1835.8,340.6) rotate(-90)" font-size="27" textLength="130.8" lengthAdjust="spacingAndGlyphs">PEI-DF490</text>
<text transform="translate(1883.8,340.6) rotate(-90)" font-size="27" textLength="130.8" lengthAdjust="spacingAndGlyphs">MELC-2E11</text>
<text transform="translate(1928.3,338.9) rotate(-90)" font-size="27" fill="#BEBEBE" textLength="229.9" lengthAdjust="spacingAndGlyphs">Shared w/ healthy</text>
<text transform="translate(1975.5,340.1) rotate(-90)" font-size="27" fill="#BEBEBE" textLength="254.1" lengthAdjust="spacingAndGlyphs">Not in healthy (hmz)</text>
<text transform="translate(2023.0,323.1) rotate(-90)" font-size="27" fill="#BEBEBE" textLength="240.8" lengthAdjust="spacingAndGlyphs">Not in healthy (htz)</text>
<text transform="translate(2073.3,115.5) rotate(-90)" font-size="27" fill="#0000FF" textLength="52.6" lengthAdjust="spacingAndGlyphs">USA</text>
<text transform="translate(2121.1,87.1) rotate(-90)" font-size="27" fill="#FF0000" textLength="36.3" lengthAdjust="spacingAndGlyphs">PEI</text>
<text transform="translate(1675.5,210.6) rotate(-90)" font-size="26" text-anchor="middle" textLength="223.3" lengthAdjust="spacingAndGlyphs">SigS SNV fraction</text>
<text x="1828.9" y="437.5" font-size="26" text-anchor="middle" textLength="81.9" lengthAdjust="spacingAndGlyphs">Healthy</text>
<text x="1964.6" y="437.5" font-size="26" text-anchor="middle" fill="#BEBEBE" textLength="117.8" lengthAdjust="spacingAndGlyphs">All MarBTN</text>
<text x="2091.1" y="437.5" font-size="26" text-anchor="middle" fill="#800080" textLength="68.4" lengthAdjust="spacingAndGlyphs">Sublin</text>
<text x="1985.0" y="497.0" font-size="26" text-anchor="middle" textLength="147.6" lengthAdjust="spacingAndGlyphs">Cancer first</text>
<text x="1984.6" y="528.8" font-size="26" text-anchor="middle" textLength="118.3" lengthAdjust="spacingAndGlyphs">observed</text>
<line x1="1974.6" y1="543.8" x2="1974.6" y2="688.0" stroke="#444" stroke-width="1.85" stroke-dasharray="12.4,6.4"/>
<line x1="1706.2" y1="688.0" x2="2003.0" y2="688.0" stroke="#1a1a1a" stroke-width="1.6"/>
<line x1="1764.2" y1="688.0" x2="1764.2" y2="698.0" stroke="#555" stroke-width="1.5"/>
<text x="1764.2" y="727.5" font-size="22.5" text-anchor="middle" textLength="41.4" lengthAdjust="spacingAndGlyphs">750</text>
<line x1="1839.2" y1="688.0" x2="1839.2" y2="698.0" stroke="#555" stroke-width="1.5"/>
<text x="1839.2" y="727.5" font-size="22.5" text-anchor="middle" textLength="43.9" lengthAdjust="spacingAndGlyphs">500</text>
<line x1="1914.2" y1="688.0" x2="1914.2" y2="698.0" stroke="#555" stroke-width="1.5"/>
<text x="1914.2" y="727.5" font-size="22.5" text-anchor="middle" textLength="41.4" lengthAdjust="spacingAndGlyphs">250</text>
<line x1="1989.2" y1="688.0" x2="1989.2" y2="698.0" stroke="#555" stroke-width="1.5"/>
<text x="1989.2" y="727.5" font-size="22.5" text-anchor="middle" textLength="15.1" lengthAdjust="spacingAndGlyphs">0</text>
<line x1="1749.2" y1="553.0" x2="1929.5" y2="553.0" stroke="#000" stroke-width="3.6"/>
<circle cx="1891.0" cy="553.0" r="8.8" fill="#000"/>
<line x1="1706.2" y1="608.2" x2="1947.5" y2="608.2" stroke="#000" stroke-width="3.6"/>
<circle cx="1892.5" cy="608.2" r="8.8" fill="#000"/>
<line x1="1706.2" y1="663.8" x2="1933.0" y2="663.8" stroke="#000" stroke-width="3.6"/>
<circle cx="1860.0" cy="663.8" r="8.8" fill="#000"/>
<text x="1681.0" y="618.5" font-size="26" text-anchor="middle">∞</text>
<text x="1680.0" y="674.0" font-size="26" text-anchor="middle">∞</text>
<text x="2002.0" y="558.8" font-size="26" textLength="165.8" lengthAdjust="spacingAndGlyphs">MRCA (Sig5′)</text>
<text x="2002.0" y="614.2" font-size="26" textLength="160.1" lengthAdjust="spacingAndGlyphs">MRCA (SigS)</text>
<text x="2002.0" y="669.5" font-size="26" textLength="161.6" lengthAdjust="spacingAndGlyphs">Origin (SigS)</text>
<text x="1854.8" y="768.8" font-size="26" text-anchor="middle" textLength="263.6" lengthAdjust="spacingAndGlyphs">Years before present</text>
<line x1="1754.2" y1="936.2" x2="2146.6" y2="936.2" stroke="#444" stroke-width="1.85" stroke-dasharray="12.5,6.3"/>
<line x1="1743.7" y1="1195.4" x2="1753.4" y2="1195.4" stroke="#2a2a2a" stroke-width="1.5"/>
<text x="1731.6" y="1202.9" font-size="22.5" text-anchor="end" textLength="34.1" lengthAdjust="spacingAndGlyphs">0.4</text>
<line x1="1743.7" y1="1109.0" x2="1753.4" y2="1109.0" stroke="#2a2a2a" stroke-width="1.5"/>
<text x="1731.6" y="1116.5" font-size="22.5" text-anchor="end" textLength="34.1" lengthAdjust="spacingAndGlyphs">0.6</text>
<line x1="1743.7" y1="1022.6" x2="1753.4" y2="1022.6" stroke="#2a2a2a" stroke-width="1.5"/>
<text x="1731.6" y="1030.1" font-size="22.5" text-anchor="end" textLength="34.1" lengthAdjust="spacingAndGlyphs">0.8</text>
<line x1="1743.7" y1="936.2" x2="1753.4" y2="936.2" stroke="#2a2a2a" stroke-width="1.5"/>
<text x="1731.6" y="943.7" font-size="22.5" text-anchor="end" textLength="34.1" lengthAdjust="spacingAndGlyphs">1.0</text>
<line x1="1791.1" y1="1211.4" x2="1791.1" y2="1221.4" stroke="#2a2a2a" stroke-width="1.5"/>
<line x1="1854.7" y1="1211.4" x2="1854.7" y2="1221.4" stroke="#2a2a2a" stroke-width="1.5"/>
<line x1="1918.4" y1="1211.4" x2="1918.4" y2="1221.4" stroke="#2a2a2a" stroke-width="1.5"/>
<line x1="1981.6" y1="1211.4" x2="1981.6" y2="1221.4" stroke="#2a2a2a" stroke-width="1.5"/>
<line x1="2045.3" y1="1211.4" x2="2045.3" y2="1221.4" stroke="#2a2a2a" stroke-width="1.5"/>
<line x1="2108.9" y1="1211.4" x2="2108.9" y2="1221.4" stroke="#2a2a2a" stroke-width="1.5"/>
<polyline points="1753.4,877.7 1753.4,1211.4 2146.6,1211.4" fill="none" stroke="#2a2a2a" stroke-width="1.6"/>
<circle cx="1791.0" cy="1172.3" r="8.8" fill="#000"/>
<circle cx="1854.7" cy="1186.8" r="8.6" fill="#BEBEBE"/>
<circle cx="1918.4" cy="1144.0" r="8.6" fill="#BEBEBE"/>
<line x1="1981.6" y1="901.6" x2="1981.6" y2="954.5" stroke="#FF0000" stroke-width="4"/>
<circle cx="1981.6" cy="927.9" r="8.8" fill="#FF0000"/>
<line x1="2045.3" y1="932.4" x2="2045.3" y2="981.5" stroke="#0000FF" stroke-width="4"/>
<circle cx="2045.3" cy="957.2" r="8.8" fill="#0000FF"/>
<line x1="2108.9" y1="925.8" x2="2108.9" y2="960.4" stroke="#800080" stroke-width="4"/>
<circle cx="2108.9" cy="943.4" r="8.8" fill="#800080"/>
<text transform="translate(1862.0,1175.5) rotate(-90)" font-size="27.5" fill="#BEBEBE" textLength="222.8" lengthAdjust="spacingAndGlyphs">Shared w/healthy</text>
<text transform="translate(1926.0,1128.9) rotate(-90)" font-size="27.5" fill="#BEBEBE" textLength="176.2" lengthAdjust="spacingAndGlyphs">Not in healthy</text>
<text transform="translate(1991.0,1009.5) rotate(-90)" font-size="27.5" fill="#FF0000" textLength="36.2" lengthAdjust="spacingAndGlyphs">PEI</text>
<text transform="translate(2054.6,1052.8) rotate(-90)" font-size="27.5" fill="#0000FF" textLength="52.9" lengthAdjust="spacingAndGlyphs">USA</text>
<text transform="translate(2119.0,1114.3) rotate(-90)" font-size="27.5" fill="#800080" textLength="132.3" lengthAdjust="spacingAndGlyphs">USA or PEI</text>
<text transform="translate(1676.3,1044.4) rotate(-90)" font-size="26" text-anchor="middle" textLength="77.7" lengthAdjust="spacingAndGlyphs">dN:dS</text>
<text x="1793.0" y="1251.2" font-size="26" text-anchor="middle" textLength="82.8" lengthAdjust="spacingAndGlyphs">Healthy</text>
<text x="1888.3" y="1251.2" font-size="26" text-anchor="middle" fill="#BEBEBE" textLength="29.3" lengthAdjust="spacingAndGlyphs">All</text>
<text x="1887.8" y="1278.1" font-size="26" text-anchor="middle" fill="#BEBEBE" textLength="83.5" lengthAdjust="spacingAndGlyphs">MarBTN</text>
<text x="2046.0" y="1251.2" font-size="26" text-anchor="middle" fill="#800080" textLength="121.9" lengthAdjust="spacingAndGlyphs">Sublineage</text>
<text x="2046.3" y="1278.1" font-size="26" text-anchor="middle" fill="#800080" textLength="84.6" lengthAdjust="spacingAndGlyphs">specific</text>
</svg>
</body></html>
